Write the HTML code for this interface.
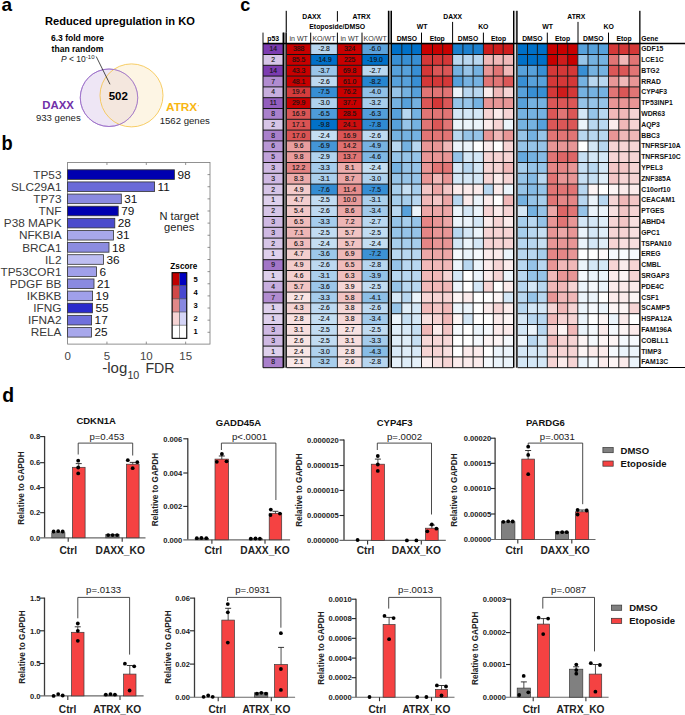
<!DOCTYPE html>
<html><head><meta charset="utf-8"><style>
html,body{margin:0;padding:0;background:#fff;width:685px;height:715px;overflow:hidden}
svg{display:block;font-family:"Liberation Sans", sans-serif}
</style></head><body>
<svg width="685" height="715" viewBox="0 0 685 715">
<text x="1.50" y="11.00" font-size="19" font-weight="bold" fill="#000" >a</text>
<text x="45.00" y="25.40" font-size="11.1" font-weight="bold" fill="#000" >Reduced upregulation in KO</text>
<text x="77.50" y="41.20" font-size="8.55" font-weight="bold" text-anchor="middle" fill="#000" >6.3 fold more</text>
<text x="77.50" y="51.70" font-size="8.55" font-weight="bold" text-anchor="middle" fill="#000" >than random</text>
<text x="61" y="61.7" font-size="8.5" fill="#222"><tspan font-style="italic">P</tspan> &lt; 10<tspan font-size="6" dy="-3">-10</tspan></text>
<circle cx="109" cy="97.75" r="28.75" fill="#eee6f5" stroke="#9a6cc8" stroke-width="0.75"/>
<circle cx="131.5" cy="95.4" r="31.5" fill="#fbe9c4" fill-opacity="0.45" stroke="#f5c242" stroke-width="0.8"/>
<circle cx="109" cy="97.75" r="28.75" fill="none" stroke="#9a6cc8" stroke-width="0.75"/>
<line x1="96.20" y1="56.50" x2="110.00" y2="84.30" stroke="#111" stroke-width="0.75"/>
<text x="118.30" y="100.40" font-size="11.5" font-weight="bold" text-anchor="middle" fill="#000" >502</text>
<text x="42.30" y="108.50" font-size="11.4" font-weight="bold" fill="#7030a8" >DAXX</text>
<text x="35.90" y="121.20" font-size="9.6" fill="#222" >933 genes</text>
<text x="166.00" y="111.40" font-size="11.8" font-weight="bold" fill="#f8b612" >ATRX</text>
<rect x="197.70" y="105.20" width="1.20" height="1.00" fill="#f8c850"/>
<text x="159.70" y="123.90" font-size="9.6" fill="#222" >1562 genes</text>
<text x="1.6" y="0" font-size="18.3" font-weight="bold" transform="translate(0,150) scale(1,1.08)">b</text>
<rect x="67.60" y="162.50" width="142.40" height="181.60" fill="#fff" stroke="#777" stroke-width="0.8"/>
<line x1="106.95" y1="162.50" x2="106.95" y2="165.00" stroke="#777" stroke-width="0.8"/>
<line x1="106.95" y1="344.10" x2="106.95" y2="341.60" stroke="#777" stroke-width="0.8"/>
<line x1="146.30" y1="162.50" x2="146.30" y2="165.00" stroke="#777" stroke-width="0.8"/>
<line x1="146.30" y1="344.10" x2="146.30" y2="341.60" stroke="#777" stroke-width="0.8"/>
<line x1="185.65" y1="162.50" x2="185.65" y2="165.00" stroke="#777" stroke-width="0.8"/>
<line x1="185.65" y1="344.10" x2="185.65" y2="341.60" stroke="#777" stroke-width="0.8"/>
<rect x="67.60" y="169.80" width="106.80" height="9.60" fill="#0000b0" stroke="#333" stroke-width="0.8"/>
<line x1="210.00" y1="174.60" x2="207.50" y2="174.60" stroke="#777" stroke-width="0.8"/>
<text x="61.50" y="178.80" font-size="11.8" text-anchor="end" fill="#3a3a3a" >TP53</text>
<text x="177.40" y="178.80" font-size="11.8" fill="#111" >98</text>
<rect x="67.60" y="181.93" width="87.00" height="9.60" fill="#6a6ad8" stroke="#333" stroke-width="0.8"/>
<line x1="210.00" y1="186.73" x2="207.50" y2="186.73" stroke="#777" stroke-width="0.8"/>
<text x="61.50" y="190.93" font-size="11.8" text-anchor="end" fill="#3a3a3a" >SLC29A1</text>
<text x="157.60" y="190.93" font-size="11.8" fill="#111" >11</text>
<rect x="67.60" y="194.06" width="53.70" height="9.60" fill="#8a8ae0" stroke="#333" stroke-width="0.8"/>
<line x1="210.00" y1="198.86" x2="207.50" y2="198.86" stroke="#777" stroke-width="0.8"/>
<text x="61.50" y="203.06" font-size="11.8" text-anchor="end" fill="#3a3a3a" >TP73</text>
<text x="124.30" y="203.06" font-size="11.8" fill="#111" >31</text>
<rect x="67.60" y="206.19" width="50.60" height="9.60" fill="#0000b0" stroke="#333" stroke-width="0.8"/>
<line x1="210.00" y1="210.99" x2="207.50" y2="210.99" stroke="#777" stroke-width="0.8"/>
<text x="61.50" y="215.19" font-size="11.8" text-anchor="end" fill="#3a3a3a" >TNF</text>
<text x="121.20" y="215.19" font-size="11.8" fill="#111" >79</text>
<rect x="67.60" y="218.32" width="47.20" height="9.60" fill="#4a4acc" stroke="#333" stroke-width="0.8"/>
<line x1="210.00" y1="223.12" x2="207.50" y2="223.12" stroke="#777" stroke-width="0.8"/>
<text x="61.50" y="227.32" font-size="11.8" text-anchor="end" fill="#3a3a3a" >P38 MAPK</text>
<text x="117.80" y="227.32" font-size="11.8" fill="#111" >28</text>
<rect x="67.60" y="230.45" width="45.90" height="9.60" fill="#a8a8ea" stroke="#333" stroke-width="0.8"/>
<line x1="210.00" y1="235.25" x2="207.50" y2="235.25" stroke="#777" stroke-width="0.8"/>
<text x="61.50" y="239.45" font-size="11.8" text-anchor="end" fill="#3a3a3a" >NFKBIA</text>
<text x="116.50" y="239.45" font-size="11.8" fill="#111" >31</text>
<rect x="67.60" y="242.58" width="41.40" height="9.60" fill="#8c8ce0" stroke="#333" stroke-width="0.8"/>
<line x1="210.00" y1="247.38" x2="207.50" y2="247.38" stroke="#777" stroke-width="0.8"/>
<text x="61.50" y="251.58" font-size="11.8" text-anchor="end" fill="#3a3a3a" >BRCA1</text>
<text x="112.00" y="251.58" font-size="11.8" fill="#111" >18</text>
<rect x="67.60" y="254.71" width="35.90" height="9.60" fill="#bebef2" stroke="#333" stroke-width="0.8"/>
<line x1="210.00" y1="259.51" x2="207.50" y2="259.51" stroke="#777" stroke-width="0.8"/>
<text x="61.50" y="263.71" font-size="11.8" text-anchor="end" fill="#3a3a3a" >IL2</text>
<text x="106.50" y="263.71" font-size="11.8" fill="#111" >36</text>
<rect x="67.60" y="266.84" width="28.90" height="9.60" fill="#a0a0ea" stroke="#333" stroke-width="0.8"/>
<line x1="210.00" y1="271.64" x2="207.50" y2="271.64" stroke="#777" stroke-width="0.8"/>
<text x="61.50" y="275.84" font-size="11.8" text-anchor="end" fill="#3a3a3a" >TP53COR1</text>
<text x="99.50" y="275.84" font-size="11.8" fill="#111" >6</text>
<rect x="67.60" y="278.97" width="26.40" height="9.60" fill="#8a8ae0" stroke="#333" stroke-width="0.8"/>
<line x1="210.00" y1="283.77" x2="207.50" y2="283.77" stroke="#777" stroke-width="0.8"/>
<text x="61.50" y="287.97" font-size="11.8" text-anchor="end" fill="#3a3a3a" >PDGF BB</text>
<text x="97.00" y="287.97" font-size="11.8" fill="#111" >21</text>
<rect x="67.60" y="291.10" width="25.00" height="9.60" fill="#a0a0ea" stroke="#333" stroke-width="0.8"/>
<line x1="210.00" y1="295.90" x2="207.50" y2="295.90" stroke="#777" stroke-width="0.8"/>
<text x="61.50" y="300.10" font-size="11.8" text-anchor="end" fill="#3a3a3a" >IKBKB</text>
<text x="95.60" y="300.10" font-size="11.8" fill="#111" >19</text>
<rect x="67.60" y="303.23" width="24.80" height="9.60" fill="#2a2acc" stroke="#333" stroke-width="0.8"/>
<line x1="210.00" y1="308.03" x2="207.50" y2="308.03" stroke="#777" stroke-width="0.8"/>
<text x="61.50" y="312.23" font-size="11.8" text-anchor="end" fill="#3a3a3a" >IFNG</text>
<text x="95.40" y="312.23" font-size="11.8" fill="#111" >55</text>
<rect x="67.60" y="315.36" width="24.00" height="9.60" fill="#7070dc" stroke="#333" stroke-width="0.8"/>
<line x1="210.00" y1="320.16" x2="207.50" y2="320.16" stroke="#777" stroke-width="0.8"/>
<text x="61.50" y="324.36" font-size="11.8" text-anchor="end" fill="#3a3a3a" >IFNA2</text>
<text x="94.60" y="324.36" font-size="11.8" fill="#111" >17</text>
<rect x="67.60" y="327.49" width="23.80" height="9.60" fill="#a8a8ec" stroke="#333" stroke-width="0.8"/>
<line x1="210.00" y1="332.29" x2="207.50" y2="332.29" stroke="#777" stroke-width="0.8"/>
<text x="61.50" y="336.49" font-size="11.8" text-anchor="end" fill="#3a3a3a" >RELA</text>
<text x="94.40" y="336.49" font-size="11.8" fill="#111" >25</text>
<text x="67.60" y="359.90" font-size="11.5" text-anchor="middle" fill="#444" >0</text>
<text x="106.95" y="359.90" font-size="11.5" text-anchor="middle" fill="#444" >5</text>
<text x="146.30" y="359.90" font-size="11.5" text-anchor="middle" fill="#444" >10</text>
<text x="185.65" y="359.90" font-size="11.5" text-anchor="middle" fill="#444" >15</text>
<text x="102.30" y="372.70" font-size="15" fill="#333" >-log</text>
<text x="127.40" y="378.80" font-size="10.7" fill="#333" >10</text>
<text x="145.40" y="372.70" font-size="14.2" fill="#333" >FDR</text>
<text x="179.20" y="219.60" font-size="11.1" text-anchor="middle" fill="#222" >N target</text>
<text x="179.20" y="231.40" font-size="11.1" text-anchor="middle" fill="#222" >genes</text>
<text x="183.80" y="268.60" font-size="8.2" font-weight="bold" text-anchor="middle" fill="#000" >Zscore</text>
<rect x="172.10" y="272.70" width="7.50" height="13.12" fill="#c00000" stroke="#555" stroke-width="0.5"/>
<rect x="179.60" y="272.70" width="7.20" height="13.12" fill="#0000c0" stroke="#555" stroke-width="0.5"/>
<text x="195.50" y="281.96" font-size="7.6" font-weight="bold" text-anchor="middle" fill="#000" >5</text>
<rect x="172.10" y="285.82" width="7.50" height="13.12" fill="#d04848" stroke="#555" stroke-width="0.5"/>
<rect x="179.60" y="285.82" width="7.20" height="13.12" fill="#4848d0" stroke="#555" stroke-width="0.5"/>
<text x="195.50" y="295.08" font-size="7.6" font-weight="bold" text-anchor="middle" fill="#000" >4</text>
<rect x="172.10" y="298.94" width="7.50" height="13.12" fill="#e08888" stroke="#555" stroke-width="0.5"/>
<rect x="179.60" y="298.94" width="7.20" height="13.12" fill="#8888e0" stroke="#555" stroke-width="0.5"/>
<text x="195.50" y="308.20" font-size="7.6" font-weight="bold" text-anchor="middle" fill="#000" >3</text>
<rect x="172.10" y="312.06" width="7.50" height="13.12" fill="#f6d4d4" stroke="#555" stroke-width="0.5"/>
<rect x="179.60" y="312.06" width="7.20" height="13.12" fill="#d4d4f6" stroke="#555" stroke-width="0.5"/>
<text x="195.50" y="321.32" font-size="7.6" font-weight="bold" text-anchor="middle" fill="#000" >2</text>
<rect x="172.10" y="325.18" width="7.50" height="13.12" fill="#ffffff" stroke="#555" stroke-width="0.5"/>
<rect x="179.60" y="325.18" width="7.20" height="13.12" fill="#ffffff" stroke="#555" stroke-width="0.5"/>
<text x="195.50" y="334.44" font-size="7.6" font-weight="bold" text-anchor="middle" fill="#000" >1</text>
<rect x="172.1" y="272.7" width="14.70" height="65.60" fill="none" stroke="#000" stroke-width="1"/>
<text x="240.30" y="10.90" font-size="18" font-weight="bold" fill="#000" >c</text>
<rect x="263.00" y="43.70" width="20.40" height="10.80" fill="#7c3cb0"/>
<text x="273.20" y="51.10" font-size="6.8" text-anchor="middle" fill="#141414" stroke="#141414" stroke-width="0.15">14</text>
<rect x="286.60" y="43.70" width="24.10" height="10.80" fill="#c80000"/>
<text x="298.70" y="51.10" font-size="6.8" text-anchor="middle" fill="#141414" stroke="#141414" stroke-width="0.15">388</text>
<rect x="310.70" y="43.70" width="26.70" height="10.80" fill="#b6d5ef"/>
<text x="324.00" y="51.10" font-size="6.8" text-anchor="middle" fill="#141414" stroke="#141414" stroke-width="0.15">-2.8</text>
<rect x="337.40" y="43.70" width="24.60" height="10.80" fill="#c80000"/>
<text x="349.70" y="51.10" font-size="6.8" text-anchor="middle" fill="#141414" stroke="#141414" stroke-width="0.15">324</text>
<rect x="362.00" y="43.70" width="26.20" height="10.80" fill="#5aa2dc"/>
<text x="375.10" y="51.10" font-size="6.8" text-anchor="middle" fill="#141414" stroke="#141414" stroke-width="0.15">-6.0</text>
<rect x="263.00" y="54.50" width="20.40" height="10.80" fill="#d6c5e7"/>
<text x="273.20" y="61.90" font-size="6.8" text-anchor="middle" fill="#141414" stroke="#141414" stroke-width="0.15">2</text>
<rect x="286.60" y="54.50" width="24.10" height="10.80" fill="#c80000"/>
<text x="298.70" y="61.90" font-size="6.8" text-anchor="middle" fill="#141414" stroke="#141414" stroke-width="0.15">85.5</text>
<rect x="310.70" y="54.50" width="26.70" height="10.80" fill="#0070c8"/>
<text x="324.00" y="61.90" font-size="6.8" text-anchor="middle" fill="#141414" stroke="#141414" stroke-width="0.15">-14.9</text>
<rect x="337.40" y="54.50" width="24.60" height="10.80" fill="#c80000"/>
<text x="349.70" y="61.90" font-size="6.8" text-anchor="middle" fill="#141414" stroke="#141414" stroke-width="0.15">225</text>
<rect x="362.00" y="54.50" width="26.20" height="10.80" fill="#0070c8"/>
<text x="375.10" y="61.90" font-size="6.8" text-anchor="middle" fill="#141414" stroke="#141414" stroke-width="0.15">-19.0</text>
<rect x="263.00" y="65.30" width="20.40" height="10.80" fill="#7c3cb0"/>
<text x="273.20" y="72.70" font-size="6.8" text-anchor="middle" fill="#141414" stroke="#141414" stroke-width="0.15">14</text>
<rect x="286.60" y="65.30" width="24.10" height="10.80" fill="#c80000"/>
<text x="298.70" y="72.70" font-size="6.8" text-anchor="middle" fill="#141414" stroke="#141414" stroke-width="0.15">43.3</text>
<rect x="310.70" y="65.30" width="26.70" height="10.80" fill="#99c5e9"/>
<text x="324.00" y="72.70" font-size="6.8" text-anchor="middle" fill="#141414" stroke="#141414" stroke-width="0.15">-3.7</text>
<rect x="337.40" y="65.30" width="24.60" height="10.80" fill="#c80000"/>
<text x="349.70" y="72.70" font-size="6.8" text-anchor="middle" fill="#141414" stroke="#141414" stroke-width="0.15">69.8</text>
<rect x="362.00" y="65.30" width="26.20" height="10.80" fill="#b9d7f0"/>
<text x="375.10" y="72.70" font-size="6.8" text-anchor="middle" fill="#141414" stroke="#141414" stroke-width="0.15">-2.7</text>
<rect x="263.00" y="76.10" width="20.40" height="10.80" fill="#b18cd0"/>
<text x="273.20" y="83.50" font-size="6.8" text-anchor="middle" fill="#141414" stroke="#141414" stroke-width="0.15">7</text>
<rect x="286.60" y="76.10" width="24.10" height="10.80" fill="#c80000"/>
<text x="298.70" y="83.50" font-size="6.8" text-anchor="middle" fill="#141414" stroke="#141414" stroke-width="0.15">48.1</text>
<rect x="310.70" y="76.10" width="26.70" height="10.80" fill="#bdd9f1"/>
<text x="324.00" y="83.50" font-size="6.8" text-anchor="middle" fill="#141414" stroke="#141414" stroke-width="0.15">-2.6</text>
<rect x="337.40" y="76.10" width="24.60" height="10.80" fill="#c80000"/>
<text x="349.70" y="83.50" font-size="6.8" text-anchor="middle" fill="#141414" stroke="#141414" stroke-width="0.15">61.0</text>
<rect x="362.00" y="76.10" width="26.20" height="10.80" fill="#2685d0"/>
<text x="375.10" y="83.50" font-size="6.8" text-anchor="middle" fill="#141414" stroke="#141414" stroke-width="0.15">-8.2</text>
<rect x="263.00" y="86.90" width="20.40" height="10.80" fill="#c7aede"/>
<text x="273.20" y="94.30" font-size="6.8" text-anchor="middle" fill="#141414" stroke="#141414" stroke-width="0.15">4</text>
<rect x="286.60" y="86.90" width="24.10" height="10.80" fill="#d53c3c"/>
<text x="298.70" y="94.30" font-size="6.8" text-anchor="middle" fill="#141414" stroke="#141414" stroke-width="0.15">19.4</text>
<rect x="310.70" y="86.90" width="26.70" height="10.80" fill="#368ed4"/>
<text x="324.00" y="94.30" font-size="6.8" text-anchor="middle" fill="#141414" stroke="#141414" stroke-width="0.15">-7.5</text>
<rect x="337.40" y="86.90" width="24.60" height="10.80" fill="#c80000"/>
<text x="349.70" y="94.30" font-size="6.8" text-anchor="middle" fill="#141414" stroke="#141414" stroke-width="0.15">76.2</text>
<rect x="362.00" y="86.90" width="26.20" height="10.80" fill="#90c0e7"/>
<text x="375.10" y="94.30" font-size="6.8" text-anchor="middle" fill="#141414" stroke="#141414" stroke-width="0.15">-4.0</text>
<rect x="263.00" y="97.70" width="20.40" height="10.80" fill="#935ebe"/>
<text x="273.20" y="105.10" font-size="6.8" text-anchor="middle" fill="#141414" stroke="#141414" stroke-width="0.15">11</text>
<rect x="286.60" y="97.70" width="24.10" height="10.80" fill="#c80000"/>
<text x="298.70" y="105.10" font-size="6.8" text-anchor="middle" fill="#141414" stroke="#141414" stroke-width="0.15">29.9</text>
<rect x="310.70" y="97.70" width="26.70" height="10.80" fill="#afd2ee"/>
<text x="324.00" y="105.10" font-size="6.8" text-anchor="middle" fill="#141414" stroke="#141414" stroke-width="0.15">-3.0</text>
<rect x="337.40" y="97.70" width="24.60" height="10.80" fill="#c80000"/>
<text x="349.70" y="105.10" font-size="6.8" text-anchor="middle" fill="#141414" stroke="#141414" stroke-width="0.15">37.7</text>
<rect x="362.00" y="97.70" width="26.20" height="10.80" fill="#a8ceec"/>
<text x="375.10" y="105.10" font-size="6.8" text-anchor="middle" fill="#141414" stroke="#141414" stroke-width="0.15">-3.2</text>
<rect x="263.00" y="108.50" width="20.40" height="10.80" fill="#a980cc"/>
<text x="273.20" y="115.90" font-size="6.8" text-anchor="middle" fill="#141414" stroke="#141414" stroke-width="0.15">8</text>
<rect x="286.60" y="108.50" width="24.10" height="10.80" fill="#da5555"/>
<text x="298.70" y="115.90" font-size="6.8" text-anchor="middle" fill="#141414" stroke="#141414" stroke-width="0.15">16.9</text>
<rect x="310.70" y="108.50" width="26.70" height="10.80" fill="#4e9bd9"/>
<text x="324.00" y="115.90" font-size="6.8" text-anchor="middle" fill="#141414" stroke="#141414" stroke-width="0.15">-6.5</text>
<rect x="337.40" y="108.50" width="24.60" height="10.80" fill="#c80000"/>
<text x="349.70" y="115.90" font-size="6.8" text-anchor="middle" fill="#141414" stroke="#141414" stroke-width="0.15">28.5</text>
<rect x="362.00" y="108.50" width="26.20" height="10.80" fill="#539eda"/>
<text x="375.10" y="115.90" font-size="6.8" text-anchor="middle" fill="#141414" stroke="#141414" stroke-width="0.15">-6.3</text>
<rect x="263.00" y="119.30" width="20.40" height="10.80" fill="#d6c5e7"/>
<text x="273.20" y="126.70" font-size="6.8" text-anchor="middle" fill="#141414" stroke="#141414" stroke-width="0.15">2</text>
<rect x="286.60" y="119.30" width="24.10" height="10.80" fill="#da5353"/>
<text x="298.70" y="126.70" font-size="6.8" text-anchor="middle" fill="#141414" stroke="#141414" stroke-width="0.15">17.1</text>
<rect x="310.70" y="119.30" width="26.70" height="10.80" fill="#0271c8"/>
<text x="324.00" y="126.70" font-size="6.8" text-anchor="middle" fill="#141414" stroke="#141414" stroke-width="0.15">-9.8</text>
<rect x="337.40" y="119.30" width="24.60" height="10.80" fill="#cb0e0e"/>
<text x="349.70" y="126.70" font-size="6.8" text-anchor="middle" fill="#141414" stroke="#141414" stroke-width="0.15">24.1</text>
<rect x="362.00" y="119.30" width="26.20" height="10.80" fill="#2f8ad2"/>
<text x="375.10" y="126.70" font-size="6.8" text-anchor="middle" fill="#141414" stroke="#141414" stroke-width="0.15">-7.8</text>
<rect x="263.00" y="130.10" width="20.40" height="10.80" fill="#a980cc"/>
<text x="273.20" y="137.50" font-size="6.8" text-anchor="middle" fill="#141414" stroke="#141414" stroke-width="0.15">8</text>
<rect x="286.60" y="130.10" width="24.10" height="10.80" fill="#da5454"/>
<text x="298.70" y="137.50" font-size="6.8" text-anchor="middle" fill="#141414" stroke="#141414" stroke-width="0.15">17.0</text>
<rect x="310.70" y="130.10" width="26.70" height="10.80" fill="#c4def2"/>
<text x="324.00" y="137.50" font-size="6.8" text-anchor="middle" fill="#141414" stroke="#141414" stroke-width="0.15">-2.4</text>
<rect x="337.40" y="130.10" width="24.60" height="10.80" fill="#da5555"/>
<text x="349.70" y="137.50" font-size="6.8" text-anchor="middle" fill="#141414" stroke="#141414" stroke-width="0.15">16.9</text>
<rect x="362.00" y="130.10" width="26.20" height="10.80" fill="#bdd9f1"/>
<text x="375.10" y="137.50" font-size="6.8" text-anchor="middle" fill="#141414" stroke="#141414" stroke-width="0.15">-2.6</text>
<rect x="263.00" y="140.90" width="20.40" height="10.80" fill="#b897d5"/>
<text x="273.20" y="148.30" font-size="6.8" text-anchor="middle" fill="#141414" stroke="#141414" stroke-width="0.15">6</text>
<rect x="286.60" y="140.90" width="24.10" height="10.80" fill="#e99e9e"/>
<text x="298.70" y="148.30" font-size="6.8" text-anchor="middle" fill="#141414" stroke="#141414" stroke-width="0.15">9.6</text>
<rect x="310.70" y="140.90" width="26.70" height="10.80" fill="#4496d7"/>
<text x="324.00" y="148.30" font-size="6.8" text-anchor="middle" fill="#141414" stroke="#141414" stroke-width="0.15">-6.9</text>
<rect x="337.40" y="140.90" width="24.60" height="10.80" fill="#e07070"/>
<text x="349.70" y="148.30" font-size="6.8" text-anchor="middle" fill="#141414" stroke="#141414" stroke-width="0.15">14.2</text>
<rect x="362.00" y="140.90" width="26.20" height="10.80" fill="#77b2e2"/>
<text x="375.10" y="148.30" font-size="6.8" text-anchor="middle" fill="#141414" stroke="#141414" stroke-width="0.15">-4.9</text>
<rect x="263.00" y="151.70" width="20.40" height="10.80" fill="#c0a2da"/>
<text x="273.20" y="159.10" font-size="6.8" text-anchor="middle" fill="#141414" stroke="#141414" stroke-width="0.15">5</text>
<rect x="286.60" y="151.70" width="24.10" height="10.80" fill="#e99c9c"/>
<text x="298.70" y="159.10" font-size="6.8" text-anchor="middle" fill="#141414" stroke="#141414" stroke-width="0.15">9.8</text>
<rect x="310.70" y="151.70" width="26.70" height="10.80" fill="#b2d4ef"/>
<text x="324.00" y="159.10" font-size="6.8" text-anchor="middle" fill="#141414" stroke="#141414" stroke-width="0.15">-2.9</text>
<rect x="337.40" y="151.70" width="24.60" height="10.80" fill="#e17575"/>
<text x="349.70" y="159.10" font-size="6.8" text-anchor="middle" fill="#141414" stroke="#141414" stroke-width="0.15">13.7</text>
<rect x="362.00" y="151.70" width="26.20" height="10.80" fill="#7fb7e3"/>
<text x="375.10" y="159.10" font-size="6.8" text-anchor="middle" fill="#141414" stroke="#141414" stroke-width="0.15">-4.6</text>
<rect x="263.00" y="162.50" width="20.40" height="10.80" fill="#cfb9e3"/>
<text x="273.20" y="169.90" font-size="6.8" text-anchor="middle" fill="#141414" stroke="#141414" stroke-width="0.15">3</text>
<rect x="286.60" y="162.50" width="24.10" height="10.80" fill="#e48484"/>
<text x="298.70" y="169.90" font-size="6.8" text-anchor="middle" fill="#141414" stroke="#141414" stroke-width="0.15">12.2</text>
<rect x="310.70" y="162.50" width="26.70" height="10.80" fill="#a5ccec"/>
<text x="324.00" y="169.90" font-size="6.8" text-anchor="middle" fill="#141414" stroke="#141414" stroke-width="0.15">-3.3</text>
<rect x="337.40" y="162.50" width="24.60" height="10.80" fill="#ecadad"/>
<text x="349.70" y="169.90" font-size="6.8" text-anchor="middle" fill="#141414" stroke="#141414" stroke-width="0.15">8.1</text>
<rect x="362.00" y="162.50" width="26.20" height="10.80" fill="#c4def2"/>
<text x="375.10" y="169.90" font-size="6.8" text-anchor="middle" fill="#141414" stroke="#141414" stroke-width="0.15">-2.4</text>
<rect x="263.00" y="173.30" width="20.40" height="10.80" fill="#cfb9e3"/>
<text x="273.20" y="180.70" font-size="6.8" text-anchor="middle" fill="#141414" stroke="#141414" stroke-width="0.15">3</text>
<rect x="286.60" y="173.30" width="24.10" height="10.80" fill="#ecabab"/>
<text x="298.70" y="180.70" font-size="6.8" text-anchor="middle" fill="#141414" stroke="#141414" stroke-width="0.15">8.3</text>
<rect x="310.70" y="173.30" width="26.70" height="10.80" fill="#abd0ed"/>
<text x="324.00" y="180.70" font-size="6.8" text-anchor="middle" fill="#141414" stroke="#141414" stroke-width="0.15">-3.1</text>
<rect x="337.40" y="173.30" width="24.60" height="10.80" fill="#eba7a7"/>
<text x="349.70" y="180.70" font-size="6.8" text-anchor="middle" fill="#141414" stroke="#141414" stroke-width="0.15">8.7</text>
<rect x="362.00" y="173.30" width="26.20" height="10.80" fill="#afd2ee"/>
<text x="375.10" y="180.70" font-size="6.8" text-anchor="middle" fill="#141414" stroke="#141414" stroke-width="0.15">-3.0</text>
<rect x="263.00" y="184.10" width="20.40" height="10.80" fill="#d6c5e7"/>
<text x="273.20" y="191.50" font-size="6.8" text-anchor="middle" fill="#141414" stroke="#141414" stroke-width="0.15">2</text>
<rect x="286.60" y="184.10" width="24.10" height="10.80" fill="#f3cccc"/>
<text x="298.70" y="191.50" font-size="6.8" text-anchor="middle" fill="#141414" stroke="#141414" stroke-width="0.15">4.9</text>
<rect x="310.70" y="184.10" width="26.70" height="10.80" fill="#348dd3"/>
<text x="324.00" y="191.50" font-size="6.8" text-anchor="middle" fill="#141414" stroke="#141414" stroke-width="0.15">-7.6</text>
<rect x="337.40" y="184.10" width="24.60" height="10.80" fill="#e58c8c"/>
<text x="349.70" y="191.50" font-size="6.8" text-anchor="middle" fill="#141414" stroke="#141414" stroke-width="0.15">11.4</text>
<rect x="362.00" y="184.10" width="26.20" height="10.80" fill="#368ed4"/>
<text x="375.10" y="191.50" font-size="6.8" text-anchor="middle" fill="#141414" stroke="#141414" stroke-width="0.15">-7.5</text>
<rect x="263.00" y="194.90" width="20.40" height="10.80" fill="#ded0ec"/>
<text x="273.20" y="202.30" font-size="6.8" text-anchor="middle" fill="#141414" stroke="#141414" stroke-width="0.15">1</text>
<rect x="286.60" y="194.90" width="24.10" height="10.80" fill="#f3cece"/>
<text x="298.70" y="202.30" font-size="6.8" text-anchor="middle" fill="#141414" stroke="#141414" stroke-width="0.15">4.7</text>
<rect x="310.70" y="194.90" width="26.70" height="10.80" fill="#c1dcf2"/>
<text x="324.00" y="202.30" font-size="6.8" text-anchor="middle" fill="#141414" stroke="#141414" stroke-width="0.15">-2.5</text>
<rect x="337.40" y="194.90" width="24.60" height="10.80" fill="#e89a9a"/>
<text x="349.70" y="202.30" font-size="6.8" text-anchor="middle" fill="#141414" stroke="#141414" stroke-width="0.15">10.0</text>
<rect x="362.00" y="194.90" width="26.20" height="10.80" fill="#abd0ed"/>
<text x="375.10" y="202.30" font-size="6.8" text-anchor="middle" fill="#141414" stroke="#141414" stroke-width="0.15">-3.1</text>
<rect x="263.00" y="205.70" width="20.40" height="10.80" fill="#d6c5e7"/>
<text x="273.20" y="213.10" font-size="6.8" text-anchor="middle" fill="#141414" stroke="#141414" stroke-width="0.15">2</text>
<rect x="286.60" y="205.70" width="24.10" height="10.80" fill="#f2c7c7"/>
<text x="298.70" y="213.10" font-size="6.8" text-anchor="middle" fill="#141414" stroke="#141414" stroke-width="0.15">5.4</text>
<rect x="310.70" y="205.70" width="26.70" height="10.80" fill="#bdd9f1"/>
<text x="324.00" y="213.10" font-size="6.8" text-anchor="middle" fill="#141414" stroke="#141414" stroke-width="0.15">-2.6</text>
<rect x="337.40" y="205.70" width="24.60" height="10.80" fill="#eba8a8"/>
<text x="349.70" y="213.10" font-size="6.8" text-anchor="middle" fill="#141414" stroke="#141414" stroke-width="0.15">8.6</text>
<rect x="362.00" y="205.70" width="26.20" height="10.80" fill="#a2caeb"/>
<text x="375.10" y="213.10" font-size="6.8" text-anchor="middle" fill="#141414" stroke="#141414" stroke-width="0.15">-3.4</text>
<rect x="263.00" y="216.50" width="20.40" height="10.80" fill="#cfb9e3"/>
<text x="273.20" y="223.90" font-size="6.8" text-anchor="middle" fill="#141414" stroke="#141414" stroke-width="0.15">3</text>
<rect x="286.60" y="216.50" width="24.10" height="10.80" fill="#f0bcbc"/>
<text x="298.70" y="223.90" font-size="6.8" text-anchor="middle" fill="#141414" stroke="#141414" stroke-width="0.15">6.5</text>
<rect x="310.70" y="216.50" width="26.70" height="10.80" fill="#a5ccec"/>
<text x="324.00" y="223.90" font-size="6.8" text-anchor="middle" fill="#141414" stroke="#141414" stroke-width="0.15">-3.3</text>
<rect x="337.40" y="216.50" width="24.60" height="10.80" fill="#eeb5b5"/>
<text x="349.70" y="223.90" font-size="6.8" text-anchor="middle" fill="#141414" stroke="#141414" stroke-width="0.15">7.2</text>
<rect x="362.00" y="216.50" width="26.20" height="10.80" fill="#b9d7f0"/>
<text x="375.10" y="223.90" font-size="6.8" text-anchor="middle" fill="#141414" stroke="#141414" stroke-width="0.15">-2.7</text>
<rect x="263.00" y="227.30" width="20.40" height="10.80" fill="#cfb9e3"/>
<text x="273.20" y="234.70" font-size="6.8" text-anchor="middle" fill="#141414" stroke="#141414" stroke-width="0.15">3</text>
<rect x="286.60" y="227.30" width="24.10" height="10.80" fill="#eeb6b6"/>
<text x="298.70" y="234.70" font-size="6.8" text-anchor="middle" fill="#141414" stroke="#141414" stroke-width="0.15">7.1</text>
<rect x="310.70" y="227.30" width="26.70" height="10.80" fill="#c1dcf2"/>
<text x="324.00" y="234.70" font-size="6.8" text-anchor="middle" fill="#141414" stroke="#141414" stroke-width="0.15">-2.5</text>
<rect x="337.40" y="227.30" width="24.60" height="10.80" fill="#f1c4c4"/>
<text x="349.70" y="234.70" font-size="6.8" text-anchor="middle" fill="#141414" stroke="#141414" stroke-width="0.15">5.7</text>
<rect x="362.00" y="227.30" width="26.20" height="10.80" fill="#c1dcf2"/>
<text x="375.10" y="234.70" font-size="6.8" text-anchor="middle" fill="#141414" stroke="#141414" stroke-width="0.15">-2.5</text>
<rect x="263.00" y="238.10" width="20.40" height="10.80" fill="#d6c5e7"/>
<text x="273.20" y="245.50" font-size="6.8" text-anchor="middle" fill="#141414" stroke="#141414" stroke-width="0.15">2</text>
<rect x="286.60" y="238.10" width="24.10" height="10.80" fill="#f0bebe"/>
<text x="298.70" y="245.50" font-size="6.8" text-anchor="middle" fill="#141414" stroke="#141414" stroke-width="0.15">6.3</text>
<rect x="310.70" y="238.10" width="26.70" height="10.80" fill="#c4def2"/>
<text x="324.00" y="245.50" font-size="6.8" text-anchor="middle" fill="#141414" stroke="#141414" stroke-width="0.15">-2.4</text>
<rect x="337.40" y="238.10" width="24.60" height="10.80" fill="#f1c4c4"/>
<text x="349.70" y="245.50" font-size="6.8" text-anchor="middle" fill="#141414" stroke="#141414" stroke-width="0.15">5.7</text>
<rect x="362.00" y="238.10" width="26.20" height="10.80" fill="#c4def2"/>
<text x="375.10" y="245.50" font-size="6.8" text-anchor="middle" fill="#141414" stroke="#141414" stroke-width="0.15">-2.4</text>
<rect x="263.00" y="248.90" width="20.40" height="10.80" fill="#ded0ec"/>
<text x="273.20" y="256.30" font-size="6.8" text-anchor="middle" fill="#141414" stroke="#141414" stroke-width="0.15">1</text>
<rect x="286.60" y="248.90" width="24.10" height="10.80" fill="#f3cece"/>
<text x="298.70" y="256.30" font-size="6.8" text-anchor="middle" fill="#141414" stroke="#141414" stroke-width="0.15">4.7</text>
<rect x="310.70" y="248.90" width="26.70" height="10.80" fill="#9cc7ea"/>
<text x="324.00" y="256.30" font-size="6.8" text-anchor="middle" fill="#141414" stroke="#141414" stroke-width="0.15">-3.6</text>
<rect x="337.40" y="248.90" width="24.60" height="10.80" fill="#efb8b8"/>
<text x="349.70" y="256.30" font-size="6.8" text-anchor="middle" fill="#141414" stroke="#141414" stroke-width="0.15">6.9</text>
<rect x="362.00" y="248.90" width="26.20" height="10.80" fill="#3d92d5"/>
<text x="375.10" y="256.30" font-size="6.8" text-anchor="middle" fill="#141414" stroke="#141414" stroke-width="0.15">-7.2</text>
<rect x="263.00" y="259.70" width="20.40" height="10.80" fill="#a275c7"/>
<text x="273.20" y="267.10" font-size="6.8" text-anchor="middle" fill="#141414" stroke="#141414" stroke-width="0.15">9</text>
<rect x="286.60" y="259.70" width="24.10" height="10.80" fill="#f3cccc"/>
<text x="298.70" y="267.10" font-size="6.8" text-anchor="middle" fill="#141414" stroke="#141414" stroke-width="0.15">4.9</text>
<rect x="310.70" y="259.70" width="26.70" height="10.80" fill="#bdd9f1"/>
<text x="324.00" y="267.10" font-size="6.8" text-anchor="middle" fill="#141414" stroke="#141414" stroke-width="0.15">-2.6</text>
<rect x="337.40" y="259.70" width="24.60" height="10.80" fill="#f0bcbc"/>
<text x="349.70" y="267.10" font-size="6.8" text-anchor="middle" fill="#141414" stroke="#141414" stroke-width="0.15">6.5</text>
<rect x="362.00" y="259.70" width="26.20" height="10.80" fill="#b6d5ef"/>
<text x="375.10" y="267.10" font-size="6.8" text-anchor="middle" fill="#141414" stroke="#141414" stroke-width="0.15">-2.8</text>
<rect x="263.00" y="270.50" width="20.40" height="10.80" fill="#ded0ec"/>
<text x="273.20" y="277.90" font-size="6.8" text-anchor="middle" fill="#141414" stroke="#141414" stroke-width="0.15">1</text>
<rect x="286.60" y="270.50" width="24.10" height="10.80" fill="#f4cfcf"/>
<text x="298.70" y="277.90" font-size="6.8" text-anchor="middle" fill="#141414" stroke="#141414" stroke-width="0.15">4.6</text>
<rect x="310.70" y="270.50" width="26.70" height="10.80" fill="#abd0ed"/>
<text x="324.00" y="277.90" font-size="6.8" text-anchor="middle" fill="#141414" stroke="#141414" stroke-width="0.15">-3.1</text>
<rect x="337.40" y="270.50" width="24.60" height="10.80" fill="#f0bebe"/>
<text x="349.70" y="277.90" font-size="6.8" text-anchor="middle" fill="#141414" stroke="#141414" stroke-width="0.15">6.3</text>
<rect x="362.00" y="270.50" width="26.20" height="10.80" fill="#93c2e8"/>
<text x="375.10" y="277.90" font-size="6.8" text-anchor="middle" fill="#141414" stroke="#141414" stroke-width="0.15">-3.9</text>
<rect x="263.00" y="281.30" width="20.40" height="10.80" fill="#c7aede"/>
<text x="273.20" y="288.70" font-size="6.8" text-anchor="middle" fill="#141414" stroke="#141414" stroke-width="0.15">4</text>
<rect x="286.60" y="281.30" width="24.10" height="10.80" fill="#f1c4c4"/>
<text x="298.70" y="288.70" font-size="6.8" text-anchor="middle" fill="#141414" stroke="#141414" stroke-width="0.15">5.7</text>
<rect x="310.70" y="281.30" width="26.70" height="10.80" fill="#9cc7ea"/>
<text x="324.00" y="288.70" font-size="6.8" text-anchor="middle" fill="#141414" stroke="#141414" stroke-width="0.15">-3.6</text>
<rect x="337.40" y="281.30" width="24.60" height="10.80" fill="#f5d6d6"/>
<text x="349.70" y="288.70" font-size="6.8" text-anchor="middle" fill="#141414" stroke="#141414" stroke-width="0.15">3.9</text>
<rect x="362.00" y="281.30" width="26.20" height="10.80" fill="#c1dcf2"/>
<text x="375.10" y="288.70" font-size="6.8" text-anchor="middle" fill="#141414" stroke="#141414" stroke-width="0.15">-2.5</text>
<rect x="263.00" y="292.10" width="20.40" height="10.80" fill="#b18cd0"/>
<text x="273.20" y="299.50" font-size="6.8" text-anchor="middle" fill="#141414" stroke="#141414" stroke-width="0.15">7</text>
<rect x="286.60" y="292.10" width="24.10" height="10.80" fill="#f8e2e2"/>
<text x="298.70" y="299.50" font-size="6.8" text-anchor="middle" fill="#141414" stroke="#141414" stroke-width="0.15">2.7</text>
<rect x="310.70" y="292.10" width="26.70" height="10.80" fill="#a5ccec"/>
<text x="324.00" y="299.50" font-size="6.8" text-anchor="middle" fill="#141414" stroke="#141414" stroke-width="0.15">-3.3</text>
<rect x="337.40" y="292.10" width="24.60" height="10.80" fill="#f1c3c3"/>
<text x="349.70" y="299.50" font-size="6.8" text-anchor="middle" fill="#141414" stroke="#141414" stroke-width="0.15">5.8</text>
<rect x="362.00" y="292.10" width="26.20" height="10.80" fill="#8dbfe6"/>
<text x="375.10" y="299.50" font-size="6.8" text-anchor="middle" fill="#141414" stroke="#141414" stroke-width="0.15">-4.1</text>
<rect x="263.00" y="302.90" width="20.40" height="10.80" fill="#ded0ec"/>
<text x="273.20" y="310.30" font-size="6.8" text-anchor="middle" fill="#141414" stroke="#141414" stroke-width="0.15">1</text>
<rect x="286.60" y="302.90" width="24.10" height="10.80" fill="#f4d2d2"/>
<text x="298.70" y="310.30" font-size="6.8" text-anchor="middle" fill="#141414" stroke="#141414" stroke-width="0.15">4.3</text>
<rect x="310.70" y="302.90" width="26.70" height="10.80" fill="#bdd9f1"/>
<text x="324.00" y="310.30" font-size="6.8" text-anchor="middle" fill="#141414" stroke="#141414" stroke-width="0.15">-2.6</text>
<rect x="337.40" y="302.90" width="24.60" height="10.80" fill="#f5d7d7"/>
<text x="349.70" y="310.30" font-size="6.8" text-anchor="middle" fill="#141414" stroke="#141414" stroke-width="0.15">3.8</text>
<rect x="362.00" y="302.90" width="26.20" height="10.80" fill="#bdd9f1"/>
<text x="375.10" y="310.30" font-size="6.8" text-anchor="middle" fill="#141414" stroke="#141414" stroke-width="0.15">-2.6</text>
<rect x="263.00" y="313.70" width="20.40" height="10.80" fill="#ded0ec"/>
<text x="273.20" y="321.10" font-size="6.8" text-anchor="middle" fill="#141414" stroke="#141414" stroke-width="0.15">1</text>
<rect x="286.60" y="313.70" width="24.10" height="10.80" fill="#f7e1e1"/>
<text x="298.70" y="321.10" font-size="6.8" text-anchor="middle" fill="#141414" stroke="#141414" stroke-width="0.15">2.8</text>
<rect x="310.70" y="313.70" width="26.70" height="10.80" fill="#c4def2"/>
<text x="324.00" y="321.10" font-size="6.8" text-anchor="middle" fill="#141414" stroke="#141414" stroke-width="0.15">-2.4</text>
<rect x="337.40" y="313.70" width="24.60" height="10.80" fill="#f5d7d7"/>
<text x="349.70" y="321.10" font-size="6.8" text-anchor="middle" fill="#141414" stroke="#141414" stroke-width="0.15">3.8</text>
<rect x="362.00" y="313.70" width="26.20" height="10.80" fill="#a2caeb"/>
<text x="375.10" y="321.10" font-size="6.8" text-anchor="middle" fill="#141414" stroke="#141414" stroke-width="0.15">-3.4</text>
<rect x="263.00" y="324.50" width="20.40" height="10.80" fill="#cfb9e3"/>
<text x="273.20" y="331.90" font-size="6.8" text-anchor="middle" fill="#141414" stroke="#141414" stroke-width="0.15">3</text>
<rect x="286.60" y="324.50" width="24.10" height="10.80" fill="#f7dede"/>
<text x="298.70" y="331.90" font-size="6.8" text-anchor="middle" fill="#141414" stroke="#141414" stroke-width="0.15">3.1</text>
<rect x="310.70" y="324.50" width="26.70" height="10.80" fill="#c1dcf2"/>
<text x="324.00" y="331.90" font-size="6.8" text-anchor="middle" fill="#141414" stroke="#141414" stroke-width="0.15">-2.5</text>
<rect x="337.40" y="324.50" width="24.60" height="10.80" fill="#f8e2e2"/>
<text x="349.70" y="331.90" font-size="6.8" text-anchor="middle" fill="#141414" stroke="#141414" stroke-width="0.15">2.7</text>
<rect x="362.00" y="324.50" width="26.20" height="10.80" fill="#c1dcf2"/>
<text x="375.10" y="331.90" font-size="6.8" text-anchor="middle" fill="#141414" stroke="#141414" stroke-width="0.15">-2.5</text>
<rect x="263.00" y="335.30" width="20.40" height="10.80" fill="#cfb9e3"/>
<text x="273.20" y="342.70" font-size="6.8" text-anchor="middle" fill="#141414" stroke="#141414" stroke-width="0.15">3</text>
<rect x="286.60" y="335.30" width="24.10" height="10.80" fill="#f8e3e3"/>
<text x="298.70" y="342.70" font-size="6.8" text-anchor="middle" fill="#141414" stroke="#141414" stroke-width="0.15">2.6</text>
<rect x="310.70" y="335.30" width="26.70" height="10.80" fill="#c1dcf2"/>
<text x="324.00" y="342.70" font-size="6.8" text-anchor="middle" fill="#141414" stroke="#141414" stroke-width="0.15">-2.5</text>
<rect x="337.40" y="335.30" width="24.60" height="10.80" fill="#f7dede"/>
<text x="349.70" y="342.70" font-size="6.8" text-anchor="middle" fill="#141414" stroke="#141414" stroke-width="0.15">3.1</text>
<rect x="362.00" y="335.30" width="26.20" height="10.80" fill="#a5ccec"/>
<text x="375.10" y="342.70" font-size="6.8" text-anchor="middle" fill="#141414" stroke="#141414" stroke-width="0.15">-3.3</text>
<rect x="263.00" y="346.10" width="20.40" height="10.80" fill="#ded0ec"/>
<text x="273.20" y="353.50" font-size="6.8" text-anchor="middle" fill="#141414" stroke="#141414" stroke-width="0.15">1</text>
<rect x="286.60" y="346.10" width="24.10" height="10.80" fill="#f8e5e5"/>
<text x="298.70" y="353.50" font-size="6.8" text-anchor="middle" fill="#141414" stroke="#141414" stroke-width="0.15">2.4</text>
<rect x="310.70" y="346.10" width="26.70" height="10.80" fill="#afd2ee"/>
<text x="324.00" y="353.50" font-size="6.8" text-anchor="middle" fill="#141414" stroke="#141414" stroke-width="0.15">-3.0</text>
<rect x="337.40" y="346.10" width="24.60" height="10.80" fill="#f7e1e1"/>
<text x="349.70" y="353.50" font-size="6.8" text-anchor="middle" fill="#141414" stroke="#141414" stroke-width="0.15">2.8</text>
<rect x="362.00" y="346.10" width="26.20" height="10.80" fill="#87bce5"/>
<text x="375.10" y="353.50" font-size="6.8" text-anchor="middle" fill="#141414" stroke="#141414" stroke-width="0.15">-4.3</text>
<rect x="263.00" y="356.90" width="20.40" height="10.80" fill="#a980cc"/>
<text x="273.20" y="364.30" font-size="6.8" text-anchor="middle" fill="#141414" stroke="#141414" stroke-width="0.15">8</text>
<rect x="286.60" y="356.90" width="24.10" height="10.80" fill="#f9e8e8"/>
<text x="298.70" y="364.30" font-size="6.8" text-anchor="middle" fill="#141414" stroke="#141414" stroke-width="0.15">2.1</text>
<rect x="310.70" y="356.90" width="26.70" height="10.80" fill="#a8ceec"/>
<text x="324.00" y="364.30" font-size="6.8" text-anchor="middle" fill="#141414" stroke="#141414" stroke-width="0.15">-3.2</text>
<rect x="337.40" y="356.90" width="24.60" height="10.80" fill="#f8e3e3"/>
<text x="349.70" y="364.30" font-size="6.8" text-anchor="middle" fill="#141414" stroke="#141414" stroke-width="0.15">2.6</text>
<rect x="362.00" y="356.90" width="26.20" height="10.80" fill="#b6d5ef"/>
<text x="375.10" y="364.30" font-size="6.8" text-anchor="middle" fill="#141414" stroke="#141414" stroke-width="0.15">-2.8</text>
<rect x="392.00" y="43.70" width="9.80" height="10.80" fill="#0070c8"/>
<rect x="517.60" y="43.70" width="9.90" height="10.80" fill="#0070c8"/>
<rect x="401.80" y="43.70" width="9.90" height="10.80" fill="#0070c8"/>
<rect x="527.50" y="43.70" width="9.90" height="10.80" fill="#0070c8"/>
<rect x="411.70" y="43.70" width="9.80" height="10.80" fill="#0070c8"/>
<rect x="537.40" y="43.70" width="9.90" height="10.80" fill="#0070c8"/>
<rect x="421.50" y="43.70" width="11.00" height="10.80" fill="#c80000"/>
<rect x="547.30" y="43.70" width="10.20" height="10.80" fill="#c80000"/>
<rect x="432.50" y="43.70" width="10.20" height="10.80" fill="#c80000"/>
<rect x="557.50" y="43.70" width="10.20" height="10.80" fill="#c80000"/>
<rect x="442.70" y="43.70" width="9.90" height="10.80" fill="#c80000"/>
<rect x="567.70" y="43.70" width="10.10" height="10.80" fill="#c80000"/>
<rect x="452.60" y="43.70" width="10.30" height="10.80" fill="#1c80ce"/>
<rect x="577.80" y="43.70" width="10.20" height="10.80" fill="#57a1db"/>
<rect x="462.90" y="43.70" width="10.20" height="10.80" fill="#1c80ce"/>
<rect x="588.00" y="43.70" width="10.30" height="10.80" fill="#57a1db"/>
<rect x="473.10" y="43.70" width="10.30" height="10.80" fill="#1c80ce"/>
<rect x="598.30" y="43.70" width="10.20" height="10.80" fill="#57a1db"/>
<rect x="483.40" y="43.70" width="9.90" height="10.80" fill="#ce1c1c"/>
<rect x="608.50" y="43.70" width="10.30" height="10.80" fill="#d43838"/>
<rect x="493.30" y="43.70" width="9.90" height="10.80" fill="#ce1c1c"/>
<rect x="618.80" y="43.70" width="10.20" height="10.80" fill="#d43838"/>
<rect x="503.20" y="43.70" width="10.00" height="10.80" fill="#ce1c1c"/>
<rect x="629.00" y="43.70" width="10.30" height="10.80" fill="#d43838"/>
<text x="641.20" y="51.10" font-size="6.85" font-weight="bold" fill="#111" >GDF15</text>
<rect x="392.00" y="54.50" width="9.80" height="10.80" fill="#388fd4"/>
<rect x="517.60" y="54.50" width="9.90" height="10.80" fill="#0070c8"/>
<rect x="401.80" y="54.50" width="9.90" height="10.80" fill="#388fd4"/>
<rect x="527.50" y="54.50" width="9.90" height="10.80" fill="#0070c8"/>
<rect x="411.70" y="54.50" width="9.80" height="10.80" fill="#388fd4"/>
<rect x="537.40" y="54.50" width="9.90" height="10.80" fill="#0070c8"/>
<rect x="421.50" y="54.50" width="11.00" height="10.80" fill="#d43838"/>
<rect x="547.30" y="54.50" width="10.20" height="10.80" fill="#c80000"/>
<rect x="432.50" y="54.50" width="10.20" height="10.80" fill="#d43838"/>
<rect x="557.50" y="54.50" width="10.20" height="10.80" fill="#ce1c1c"/>
<rect x="442.70" y="54.50" width="9.90" height="10.80" fill="#d43838"/>
<rect x="567.70" y="54.50" width="10.10" height="10.80" fill="#c80000"/>
<rect x="452.60" y="54.50" width="10.30" height="10.80" fill="#b8d7f0"/>
<rect x="577.80" y="54.50" width="10.20" height="10.80" fill="#96c4e8"/>
<rect x="462.90" y="54.50" width="10.20" height="10.80" fill="#b8d7f0"/>
<rect x="588.00" y="54.50" width="10.30" height="10.80" fill="#75b2e1"/>
<rect x="473.10" y="54.50" width="10.30" height="10.80" fill="#b8d7f0"/>
<rect x="598.30" y="54.50" width="10.20" height="10.80" fill="#75b2e1"/>
<rect x="483.40" y="54.50" width="9.90" height="10.80" fill="#f0b8b8"/>
<rect x="608.50" y="54.50" width="10.30" height="10.80" fill="#e17575"/>
<rect x="493.30" y="54.50" width="9.90" height="10.80" fill="#f0b8b8"/>
<rect x="618.80" y="54.50" width="10.20" height="10.80" fill="#f0b8b8"/>
<rect x="503.20" y="54.50" width="10.00" height="10.80" fill="#f0b8b8"/>
<rect x="629.00" y="54.50" width="10.30" height="10.80" fill="#e17575"/>
<text x="641.20" y="61.90" font-size="6.85" font-weight="bold" fill="#111" >LCE1C</text>
<rect x="392.00" y="65.30" width="9.80" height="10.80" fill="#57a1db"/>
<rect x="517.60" y="65.30" width="9.90" height="10.80" fill="#57a1db"/>
<rect x="401.80" y="65.30" width="9.90" height="10.80" fill="#57a1db"/>
<rect x="527.50" y="65.30" width="9.90" height="10.80" fill="#57a1db"/>
<rect x="411.70" y="65.30" width="9.80" height="10.80" fill="#388fd4"/>
<rect x="537.40" y="65.30" width="9.90" height="10.80" fill="#388fd4"/>
<rect x="421.50" y="65.30" width="11.00" height="10.80" fill="#d43838"/>
<rect x="547.30" y="65.30" width="10.20" height="10.80" fill="#d43838"/>
<rect x="432.50" y="65.30" width="10.20" height="10.80" fill="#db5757"/>
<rect x="557.50" y="65.30" width="10.20" height="10.80" fill="#d43838"/>
<rect x="442.70" y="65.30" width="9.90" height="10.80" fill="#db5757"/>
<rect x="567.70" y="65.30" width="10.10" height="10.80" fill="#d43838"/>
<rect x="452.60" y="65.30" width="10.30" height="10.80" fill="#75b2e1"/>
<rect x="577.80" y="65.30" width="10.20" height="10.80" fill="#388fd4"/>
<rect x="462.90" y="65.30" width="10.20" height="10.80" fill="#96c4e8"/>
<rect x="588.00" y="65.30" width="10.30" height="10.80" fill="#75b2e1"/>
<rect x="473.10" y="65.30" width="10.30" height="10.80" fill="#75b2e1"/>
<rect x="598.30" y="65.30" width="10.20" height="10.80" fill="#75b2e1"/>
<rect x="483.40" y="65.30" width="9.90" height="10.80" fill="#e89696"/>
<rect x="608.50" y="65.30" width="10.30" height="10.80" fill="#db5757"/>
<rect x="493.30" y="65.30" width="9.90" height="10.80" fill="#e17575"/>
<rect x="618.80" y="65.30" width="10.20" height="10.80" fill="#db5757"/>
<rect x="503.20" y="65.30" width="10.00" height="10.80" fill="#f0b8b8"/>
<rect x="629.00" y="65.30" width="10.30" height="10.80" fill="#e17575"/>
<text x="641.20" y="72.70" font-size="6.85" font-weight="bold" fill="#111" >BTG2</text>
<rect x="392.00" y="76.10" width="9.80" height="10.80" fill="#57a1db"/>
<rect x="517.60" y="76.10" width="9.90" height="10.80" fill="#388fd4"/>
<rect x="401.80" y="76.10" width="9.90" height="10.80" fill="#57a1db"/>
<rect x="527.50" y="76.10" width="9.90" height="10.80" fill="#57a1db"/>
<rect x="411.70" y="76.10" width="9.80" height="10.80" fill="#388fd4"/>
<rect x="537.40" y="76.10" width="9.90" height="10.80" fill="#57a1db"/>
<rect x="421.50" y="76.10" width="11.00" height="10.80" fill="#d43838"/>
<rect x="547.30" y="76.10" width="10.20" height="10.80" fill="#d43838"/>
<rect x="432.50" y="76.10" width="10.20" height="10.80" fill="#d43838"/>
<rect x="557.50" y="76.10" width="10.20" height="10.80" fill="#d43838"/>
<rect x="442.70" y="76.10" width="9.90" height="10.80" fill="#d43838"/>
<rect x="567.70" y="76.10" width="10.10" height="10.80" fill="#d43838"/>
<rect x="452.60" y="76.10" width="10.30" height="10.80" fill="#57a1db"/>
<rect x="577.80" y="76.10" width="10.20" height="10.80" fill="#75b2e1"/>
<rect x="462.90" y="76.10" width="10.20" height="10.80" fill="#75b2e1"/>
<rect x="588.00" y="76.10" width="10.30" height="10.80" fill="#b8d7f0"/>
<rect x="473.10" y="76.10" width="10.30" height="10.80" fill="#75b2e1"/>
<rect x="598.30" y="76.10" width="10.20" height="10.80" fill="#b8d7f0"/>
<rect x="483.40" y="76.10" width="9.90" height="10.80" fill="#e17575"/>
<rect x="608.50" y="76.10" width="10.30" height="10.80" fill="#e89696"/>
<rect x="493.30" y="76.10" width="9.90" height="10.80" fill="#e17575"/>
<rect x="618.80" y="76.10" width="10.20" height="10.80" fill="#f0b8b8"/>
<rect x="503.20" y="76.10" width="10.00" height="10.80" fill="#db5757"/>
<rect x="629.00" y="76.10" width="10.30" height="10.80" fill="#e89696"/>
<text x="641.20" y="83.50" font-size="6.85" font-weight="bold" fill="#111" >RRAD</text>
<rect x="392.00" y="86.90" width="9.80" height="10.80" fill="#96c4e8"/>
<rect x="517.60" y="86.90" width="9.90" height="10.80" fill="#57a1db"/>
<rect x="401.80" y="86.90" width="9.90" height="10.80" fill="#75b2e1"/>
<rect x="527.50" y="86.90" width="9.90" height="10.80" fill="#388fd4"/>
<rect x="411.70" y="86.90" width="9.80" height="10.80" fill="#57a1db"/>
<rect x="537.40" y="86.90" width="9.90" height="10.80" fill="#388fd4"/>
<rect x="421.50" y="86.90" width="11.00" height="10.80" fill="#e17575"/>
<rect x="547.30" y="86.90" width="10.20" height="10.80" fill="#d43838"/>
<rect x="432.50" y="86.90" width="10.20" height="10.80" fill="#e17575"/>
<rect x="557.50" y="86.90" width="10.20" height="10.80" fill="#ce1c1c"/>
<rect x="442.70" y="86.90" width="9.90" height="10.80" fill="#e17575"/>
<rect x="567.70" y="86.90" width="10.10" height="10.80" fill="#d43838"/>
<rect x="452.60" y="86.90" width="10.30" height="10.80" fill="#ebf4fb"/>
<rect x="577.80" y="86.90" width="10.20" height="10.80" fill="#75b2e1"/>
<rect x="462.90" y="86.90" width="10.20" height="10.80" fill="#b8d7f0"/>
<rect x="588.00" y="86.90" width="10.30" height="10.80" fill="#75b2e1"/>
<rect x="473.10" y="86.90" width="10.30" height="10.80" fill="#b8d7f0"/>
<rect x="598.30" y="86.90" width="10.20" height="10.80" fill="#75b2e1"/>
<rect x="483.40" y="86.90" width="9.90" height="10.80" fill="#fbebeb"/>
<rect x="608.50" y="86.90" width="10.30" height="10.80" fill="#e17575"/>
<rect x="493.30" y="86.90" width="9.90" height="10.80" fill="#f0b8b8"/>
<rect x="618.80" y="86.90" width="10.20" height="10.80" fill="#db5757"/>
<rect x="503.20" y="86.90" width="10.00" height="10.80" fill="#f6d4d4"/>
<rect x="629.00" y="86.90" width="10.30" height="10.80" fill="#e17575"/>
<text x="641.20" y="94.30" font-size="6.85" font-weight="bold" fill="#111" >CYP4F3</text>
<rect x="392.00" y="97.70" width="9.80" height="10.80" fill="#75b2e1"/>
<rect x="517.60" y="97.70" width="9.90" height="10.80" fill="#57a1db"/>
<rect x="401.80" y="97.70" width="9.90" height="10.80" fill="#57a1db"/>
<rect x="527.50" y="97.70" width="9.90" height="10.80" fill="#75b2e1"/>
<rect x="411.70" y="97.70" width="9.80" height="10.80" fill="#75b2e1"/>
<rect x="537.40" y="97.70" width="9.90" height="10.80" fill="#75b2e1"/>
<rect x="421.50" y="97.70" width="11.00" height="10.80" fill="#db5757"/>
<rect x="547.30" y="97.70" width="10.20" height="10.80" fill="#db5757"/>
<rect x="432.50" y="97.70" width="10.20" height="10.80" fill="#d43838"/>
<rect x="557.50" y="97.70" width="10.20" height="10.80" fill="#db5757"/>
<rect x="442.70" y="97.70" width="9.90" height="10.80" fill="#db5757"/>
<rect x="567.70" y="97.70" width="10.10" height="10.80" fill="#db5757"/>
<rect x="452.60" y="97.70" width="10.30" height="10.80" fill="#96c4e8"/>
<rect x="577.80" y="97.70" width="10.20" height="10.80" fill="#96c4e8"/>
<rect x="462.90" y="97.70" width="10.20" height="10.80" fill="#96c4e8"/>
<rect x="588.00" y="97.70" width="10.30" height="10.80" fill="#96c4e8"/>
<rect x="473.10" y="97.70" width="10.30" height="10.80" fill="#75b2e1"/>
<rect x="598.30" y="97.70" width="10.20" height="10.80" fill="#96c4e8"/>
<rect x="483.40" y="97.70" width="9.90" height="10.80" fill="#e89696"/>
<rect x="608.50" y="97.70" width="10.30" height="10.80" fill="#e89696"/>
<rect x="493.30" y="97.70" width="9.90" height="10.80" fill="#e89696"/>
<rect x="618.80" y="97.70" width="10.20" height="10.80" fill="#e89696"/>
<rect x="503.20" y="97.70" width="10.00" height="10.80" fill="#e89696"/>
<rect x="629.00" y="97.70" width="10.30" height="10.80" fill="#e89696"/>
<text x="641.20" y="105.10" font-size="6.85" font-weight="bold" fill="#111" >TP53INP1</text>
<rect x="392.00" y="108.50" width="9.80" height="10.80" fill="#57a1db"/>
<rect x="517.60" y="108.50" width="9.90" height="10.80" fill="#75b2e1"/>
<rect x="401.80" y="108.50" width="9.90" height="10.80" fill="#b8d7f0"/>
<rect x="527.50" y="108.50" width="9.90" height="10.80" fill="#75b2e1"/>
<rect x="411.70" y="108.50" width="9.80" height="10.80" fill="#75b2e1"/>
<rect x="537.40" y="108.50" width="9.90" height="10.80" fill="#75b2e1"/>
<rect x="421.50" y="108.50" width="11.00" height="10.80" fill="#e17575"/>
<rect x="547.30" y="108.50" width="10.20" height="10.80" fill="#db5757"/>
<rect x="432.50" y="108.50" width="10.20" height="10.80" fill="#e17575"/>
<rect x="557.50" y="108.50" width="10.20" height="10.80" fill="#e17575"/>
<rect x="442.70" y="108.50" width="9.90" height="10.80" fill="#e17575"/>
<rect x="567.70" y="108.50" width="10.10" height="10.80" fill="#db5757"/>
<rect x="452.60" y="108.50" width="10.30" height="10.80" fill="#d4e7f6"/>
<rect x="577.80" y="108.50" width="10.20" height="10.80" fill="#d4e7f6"/>
<rect x="462.90" y="108.50" width="10.20" height="10.80" fill="#d4e7f6"/>
<rect x="588.00" y="108.50" width="10.30" height="10.80" fill="#96c4e8"/>
<rect x="473.10" y="108.50" width="10.30" height="10.80" fill="#d4e7f6"/>
<rect x="598.30" y="108.50" width="10.20" height="10.80" fill="#b8d7f0"/>
<rect x="483.40" y="108.50" width="9.90" height="10.80" fill="#f6d4d4"/>
<rect x="608.50" y="108.50" width="10.30" height="10.80" fill="#f0b8b8"/>
<rect x="493.30" y="108.50" width="9.90" height="10.80" fill="#fbebeb"/>
<rect x="618.80" y="108.50" width="10.20" height="10.80" fill="#f0b8b8"/>
<rect x="503.20" y="108.50" width="10.00" height="10.80" fill="#f6d4d4"/>
<rect x="629.00" y="108.50" width="10.30" height="10.80" fill="#f6d4d4"/>
<text x="641.20" y="115.90" font-size="6.85" font-weight="bold" fill="#111" >WDR63</text>
<rect x="392.00" y="119.30" width="9.80" height="10.80" fill="#57a1db"/>
<rect x="517.60" y="119.30" width="9.90" height="10.80" fill="#75b2e1"/>
<rect x="401.80" y="119.30" width="9.90" height="10.80" fill="#96c4e8"/>
<rect x="527.50" y="119.30" width="9.90" height="10.80" fill="#75b2e1"/>
<rect x="411.70" y="119.30" width="9.80" height="10.80" fill="#75b2e1"/>
<rect x="537.40" y="119.30" width="9.90" height="10.80" fill="#57a1db"/>
<rect x="421.50" y="119.30" width="11.00" height="10.80" fill="#e17575"/>
<rect x="547.30" y="119.30" width="10.20" height="10.80" fill="#db5757"/>
<rect x="432.50" y="119.30" width="10.20" height="10.80" fill="#db5757"/>
<rect x="557.50" y="119.30" width="10.20" height="10.80" fill="#db5757"/>
<rect x="442.70" y="119.30" width="9.90" height="10.80" fill="#e17575"/>
<rect x="567.70" y="119.30" width="10.10" height="10.80" fill="#db5757"/>
<rect x="452.60" y="119.30" width="10.30" height="10.80" fill="#ebf4fb"/>
<rect x="577.80" y="119.30" width="10.20" height="10.80" fill="#ebf4fb"/>
<rect x="462.90" y="119.30" width="10.20" height="10.80" fill="#ebf4fb"/>
<rect x="588.00" y="119.30" width="10.30" height="10.80" fill="#b8d7f0"/>
<rect x="473.10" y="119.30" width="10.30" height="10.80" fill="#ebf4fb"/>
<rect x="598.30" y="119.30" width="10.20" height="10.80" fill="#b8d7f0"/>
<rect x="483.40" y="119.30" width="9.90" height="10.80" fill="#fbebeb"/>
<rect x="608.50" y="119.30" width="10.30" height="10.80" fill="#fbebeb"/>
<rect x="493.30" y="119.30" width="9.90" height="10.80" fill="#f6d4d4"/>
<rect x="618.80" y="119.30" width="10.20" height="10.80" fill="#f0b8b8"/>
<rect x="503.20" y="119.30" width="10.00" height="10.80" fill="#ebf4fb"/>
<rect x="629.00" y="119.30" width="10.30" height="10.80" fill="#f6d4d4"/>
<text x="641.20" y="126.70" font-size="6.85" font-weight="bold" fill="#111" >AQP3</text>
<rect x="392.00" y="130.10" width="9.80" height="10.80" fill="#75b2e1"/>
<rect x="517.60" y="130.10" width="9.90" height="10.80" fill="#96c4e8"/>
<rect x="401.80" y="130.10" width="9.90" height="10.80" fill="#75b2e1"/>
<rect x="527.50" y="130.10" width="9.90" height="10.80" fill="#75b2e1"/>
<rect x="411.70" y="130.10" width="9.80" height="10.80" fill="#75b2e1"/>
<rect x="537.40" y="130.10" width="9.90" height="10.80" fill="#96c4e8"/>
<rect x="421.50" y="130.10" width="11.00" height="10.80" fill="#e17575"/>
<rect x="547.30" y="130.10" width="10.20" height="10.80" fill="#e17575"/>
<rect x="432.50" y="130.10" width="10.20" height="10.80" fill="#e17575"/>
<rect x="557.50" y="130.10" width="10.20" height="10.80" fill="#e17575"/>
<rect x="442.70" y="130.10" width="9.90" height="10.80" fill="#e17575"/>
<rect x="567.70" y="130.10" width="10.10" height="10.80" fill="#e17575"/>
<rect x="452.60" y="130.10" width="10.30" height="10.80" fill="#b8d7f0"/>
<rect x="577.80" y="130.10" width="10.20" height="10.80" fill="#b8d7f0"/>
<rect x="462.90" y="130.10" width="10.20" height="10.80" fill="#96c4e8"/>
<rect x="588.00" y="130.10" width="10.30" height="10.80" fill="#b8d7f0"/>
<rect x="473.10" y="130.10" width="10.30" height="10.80" fill="#96c4e8"/>
<rect x="598.30" y="130.10" width="10.20" height="10.80" fill="#b8d7f0"/>
<rect x="483.40" y="130.10" width="9.90" height="10.80" fill="#e89696"/>
<rect x="608.50" y="130.10" width="10.30" height="10.80" fill="#e89696"/>
<rect x="493.30" y="130.10" width="9.90" height="10.80" fill="#f0b8b8"/>
<rect x="618.80" y="130.10" width="10.20" height="10.80" fill="#f0b8b8"/>
<rect x="503.20" y="130.10" width="10.00" height="10.80" fill="#e89696"/>
<rect x="629.00" y="130.10" width="10.30" height="10.80" fill="#f0b8b8"/>
<text x="641.20" y="137.50" font-size="6.85" font-weight="bold" fill="#111" >BBC3</text>
<rect x="392.00" y="140.90" width="9.80" height="10.80" fill="#b8d7f0"/>
<rect x="517.60" y="140.90" width="9.90" height="10.80" fill="#96c4e8"/>
<rect x="401.80" y="140.90" width="9.90" height="10.80" fill="#75b2e1"/>
<rect x="527.50" y="140.90" width="9.90" height="10.80" fill="#96c4e8"/>
<rect x="411.70" y="140.90" width="9.80" height="10.80" fill="#b8d7f0"/>
<rect x="537.40" y="140.90" width="9.90" height="10.80" fill="#96c4e8"/>
<rect x="421.50" y="140.90" width="11.00" height="10.80" fill="#e89696"/>
<rect x="547.30" y="140.90" width="10.20" height="10.80" fill="#e89696"/>
<rect x="432.50" y="140.90" width="10.20" height="10.80" fill="#e89696"/>
<rect x="557.50" y="140.90" width="10.20" height="10.80" fill="#e89696"/>
<rect x="442.70" y="140.90" width="9.90" height="10.80" fill="#f0b8b8"/>
<rect x="567.70" y="140.90" width="10.10" height="10.80" fill="#e89696"/>
<rect x="452.60" y="140.90" width="10.30" height="10.80" fill="#ebf4fb"/>
<rect x="577.80" y="140.90" width="10.20" height="10.80" fill="#ffffff"/>
<rect x="462.90" y="140.90" width="10.20" height="10.80" fill="#ebf4fb"/>
<rect x="588.00" y="140.90" width="10.30" height="10.80" fill="#d4e7f6"/>
<rect x="473.10" y="140.90" width="10.30" height="10.80" fill="#ffffff"/>
<rect x="598.30" y="140.90" width="10.20" height="10.80" fill="#b8d7f0"/>
<rect x="483.40" y="140.90" width="9.90" height="10.80" fill="#fbebeb"/>
<rect x="608.50" y="140.90" width="10.30" height="10.80" fill="#f6d4d4"/>
<rect x="493.30" y="140.90" width="9.90" height="10.80" fill="#ffffff"/>
<rect x="618.80" y="140.90" width="10.20" height="10.80" fill="#f6d4d4"/>
<rect x="503.20" y="140.90" width="10.00" height="10.80" fill="#f6d4d4"/>
<rect x="629.00" y="140.90" width="10.30" height="10.80" fill="#f6d4d4"/>
<text x="641.20" y="148.30" font-size="6.85" font-weight="bold" fill="#111" >TNFRSF10A</text>
<rect x="392.00" y="151.70" width="9.80" height="10.80" fill="#96c4e8"/>
<rect x="517.60" y="151.70" width="9.90" height="10.80" fill="#66a9de"/>
<rect x="401.80" y="151.70" width="9.90" height="10.80" fill="#96c4e8"/>
<rect x="527.50" y="151.70" width="9.90" height="10.80" fill="#75b2e1"/>
<rect x="411.70" y="151.70" width="9.80" height="10.80" fill="#96c4e8"/>
<rect x="537.40" y="151.70" width="9.90" height="10.80" fill="#86bbe5"/>
<rect x="421.50" y="151.70" width="11.00" height="10.80" fill="#e89696"/>
<rect x="547.30" y="151.70" width="10.20" height="10.80" fill="#e17575"/>
<rect x="432.50" y="151.70" width="10.20" height="10.80" fill="#e89696"/>
<rect x="557.50" y="151.70" width="10.20" height="10.80" fill="#de6666"/>
<rect x="442.70" y="151.70" width="9.90" height="10.80" fill="#e89696"/>
<rect x="567.70" y="151.70" width="10.10" height="10.80" fill="#de6666"/>
<rect x="452.60" y="151.70" width="10.30" height="10.80" fill="#96c4e8"/>
<rect x="577.80" y="151.70" width="10.20" height="10.80" fill="#c6dff3"/>
<rect x="462.90" y="151.70" width="10.20" height="10.80" fill="#d4e7f6"/>
<rect x="588.00" y="151.70" width="10.30" height="10.80" fill="#d4e7f6"/>
<rect x="473.10" y="151.70" width="10.30" height="10.80" fill="#d4e7f6"/>
<rect x="598.30" y="151.70" width="10.20" height="10.80" fill="#d4e7f6"/>
<rect x="483.40" y="151.70" width="9.90" height="10.80" fill="#f6d4d4"/>
<rect x="608.50" y="151.70" width="10.30" height="10.80" fill="#f6d4d4"/>
<rect x="493.30" y="151.70" width="9.90" height="10.80" fill="#f6d4d4"/>
<rect x="618.80" y="151.70" width="10.20" height="10.80" fill="#f6d4d4"/>
<rect x="503.20" y="151.70" width="10.00" height="10.80" fill="#f6d4d4"/>
<rect x="629.00" y="151.70" width="10.30" height="10.80" fill="#f6d4d4"/>
<text x="641.20" y="159.10" font-size="6.85" font-weight="bold" fill="#111" >TNFRSF10C</text>
<rect x="392.00" y="162.50" width="9.80" height="10.80" fill="#75b2e1"/>
<rect x="517.60" y="162.50" width="9.90" height="10.80" fill="#a7ceec"/>
<rect x="401.80" y="162.50" width="9.90" height="10.80" fill="#96c4e8"/>
<rect x="527.50" y="162.50" width="9.90" height="10.80" fill="#96c4e8"/>
<rect x="411.70" y="162.50" width="9.80" height="10.80" fill="#96c4e8"/>
<rect x="537.40" y="162.50" width="9.90" height="10.80" fill="#96c4e8"/>
<rect x="421.50" y="162.50" width="11.00" height="10.80" fill="#e89696"/>
<rect x="547.30" y="162.50" width="10.20" height="10.80" fill="#e58686"/>
<rect x="432.50" y="162.50" width="10.20" height="10.80" fill="#e17575"/>
<rect x="557.50" y="162.50" width="10.20" height="10.80" fill="#e58686"/>
<rect x="442.70" y="162.50" width="9.90" height="10.80" fill="#e17575"/>
<rect x="567.70" y="162.50" width="10.10" height="10.80" fill="#e89696"/>
<rect x="452.60" y="162.50" width="10.30" height="10.80" fill="#d4e7f6"/>
<rect x="577.80" y="162.50" width="10.20" height="10.80" fill="#c6dff3"/>
<rect x="462.90" y="162.50" width="10.20" height="10.80" fill="#b8d7f0"/>
<rect x="588.00" y="162.50" width="10.30" height="10.80" fill="#b8d7f0"/>
<rect x="473.10" y="162.50" width="10.30" height="10.80" fill="#d4e7f6"/>
<rect x="598.30" y="162.50" width="10.20" height="10.80" fill="#d4e7f6"/>
<rect x="483.40" y="162.50" width="9.90" height="10.80" fill="#f6d4d4"/>
<rect x="608.50" y="162.50" width="10.30" height="10.80" fill="#f3c6c6"/>
<rect x="493.30" y="162.50" width="9.90" height="10.80" fill="#f6d4d4"/>
<rect x="618.80" y="162.50" width="10.20" height="10.80" fill="#f3c6c6"/>
<rect x="503.20" y="162.50" width="10.00" height="10.80" fill="#f0b8b8"/>
<rect x="629.00" y="162.50" width="10.30" height="10.80" fill="#f6d4d4"/>
<text x="641.20" y="169.90" font-size="6.85" font-weight="bold" fill="#111" >YPEL3</text>
<rect x="392.00" y="173.30" width="9.80" height="10.80" fill="#96c4e8"/>
<rect x="517.60" y="173.30" width="9.90" height="10.80" fill="#96c4e8"/>
<rect x="401.80" y="173.30" width="9.90" height="10.80" fill="#96c4e8"/>
<rect x="527.50" y="173.30" width="9.90" height="10.80" fill="#86bbe5"/>
<rect x="411.70" y="173.30" width="9.80" height="10.80" fill="#96c4e8"/>
<rect x="537.40" y="173.30" width="9.90" height="10.80" fill="#b8d7f0"/>
<rect x="421.50" y="173.30" width="11.00" height="10.80" fill="#e89696"/>
<rect x="547.30" y="173.30" width="10.20" height="10.80" fill="#e17575"/>
<rect x="432.50" y="173.30" width="10.20" height="10.80" fill="#f0b8b8"/>
<rect x="557.50" y="173.30" width="10.20" height="10.80" fill="#e89696"/>
<rect x="442.70" y="173.30" width="9.90" height="10.80" fill="#e89696"/>
<rect x="567.70" y="173.30" width="10.10" height="10.80" fill="#e89696"/>
<rect x="452.60" y="173.30" width="10.30" height="10.80" fill="#d4e7f6"/>
<rect x="577.80" y="173.30" width="10.20" height="10.80" fill="#c6dff3"/>
<rect x="462.90" y="173.30" width="10.20" height="10.80" fill="#d4e7f6"/>
<rect x="588.00" y="173.30" width="10.30" height="10.80" fill="#c6dff3"/>
<rect x="473.10" y="173.30" width="10.30" height="10.80" fill="#d4e7f6"/>
<rect x="598.30" y="173.30" width="10.20" height="10.80" fill="#dfedf8"/>
<rect x="483.40" y="173.30" width="9.90" height="10.80" fill="#f6d4d4"/>
<rect x="608.50" y="173.30" width="10.30" height="10.80" fill="#f3c6c6"/>
<rect x="493.30" y="173.30" width="9.90" height="10.80" fill="#fbebeb"/>
<rect x="618.80" y="173.30" width="10.20" height="10.80" fill="#f6d4d4"/>
<rect x="503.20" y="173.30" width="10.00" height="10.80" fill="#f6d4d4"/>
<rect x="629.00" y="173.30" width="10.30" height="10.80" fill="#f6d4d4"/>
<text x="641.20" y="180.70" font-size="6.85" font-weight="bold" fill="#111" >ZNF385A</text>
<rect x="392.00" y="184.10" width="9.80" height="10.80" fill="#a7ceec"/>
<rect x="517.60" y="184.10" width="9.90" height="10.80" fill="#96c4e8"/>
<rect x="401.80" y="184.10" width="9.90" height="10.80" fill="#c6dff3"/>
<rect x="527.50" y="184.10" width="9.90" height="10.80" fill="#86bbe5"/>
<rect x="411.70" y="184.10" width="9.80" height="10.80" fill="#a7ceec"/>
<rect x="537.40" y="184.10" width="9.90" height="10.80" fill="#96c4e8"/>
<rect x="421.50" y="184.10" width="11.00" height="10.80" fill="#f3c6c6"/>
<rect x="547.30" y="184.10" width="10.20" height="10.80" fill="#e17575"/>
<rect x="432.50" y="184.10" width="10.20" height="10.80" fill="#eca7a7"/>
<rect x="557.50" y="184.10" width="10.20" height="10.80" fill="#e17575"/>
<rect x="442.70" y="184.10" width="9.90" height="10.80" fill="#f3c6c6"/>
<rect x="567.70" y="184.10" width="10.10" height="10.80" fill="#e17575"/>
<rect x="452.60" y="184.10" width="10.30" height="10.80" fill="#fbebeb"/>
<rect x="577.80" y="184.10" width="10.20" height="10.80" fill="#b8d7f0"/>
<rect x="462.90" y="184.10" width="10.20" height="10.80" fill="#fbebeb"/>
<rect x="588.00" y="184.10" width="10.30" height="10.80" fill="#fdf5f5"/>
<rect x="473.10" y="184.10" width="10.30" height="10.80" fill="#fbebeb"/>
<rect x="598.30" y="184.10" width="10.20" height="10.80" fill="#ffffff"/>
<rect x="483.40" y="184.10" width="9.90" height="10.80" fill="#b8d7f0"/>
<rect x="608.50" y="184.10" width="10.30" height="10.80" fill="#fdf5f5"/>
<rect x="493.30" y="184.10" width="9.90" height="10.80" fill="#fbebeb"/>
<rect x="618.80" y="184.10" width="10.20" height="10.80" fill="#fbebeb"/>
<rect x="503.20" y="184.10" width="10.00" height="10.80" fill="#ebf4fb"/>
<rect x="629.00" y="184.10" width="10.30" height="10.80" fill="#fbebeb"/>
<text x="641.20" y="191.50" font-size="6.85" font-weight="bold" fill="#111" >C10orf10</text>
<rect x="392.00" y="194.90" width="9.80" height="10.80" fill="#a7ceec"/>
<rect x="517.60" y="194.90" width="9.90" height="10.80" fill="#75b2e1"/>
<rect x="401.80" y="194.90" width="9.90" height="10.80" fill="#a7ceec"/>
<rect x="527.50" y="194.90" width="9.90" height="10.80" fill="#96c4e8"/>
<rect x="411.70" y="194.90" width="9.80" height="10.80" fill="#b8d7f0"/>
<rect x="537.40" y="194.90" width="9.90" height="10.80" fill="#a7ceec"/>
<rect x="421.50" y="194.90" width="11.00" height="10.80" fill="#f0b8b8"/>
<rect x="547.30" y="194.90" width="10.20" height="10.80" fill="#e17575"/>
<rect x="432.50" y="194.90" width="10.20" height="10.80" fill="#f3c6c6"/>
<rect x="557.50" y="194.90" width="10.20" height="10.80" fill="#e58686"/>
<rect x="442.70" y="194.90" width="9.90" height="10.80" fill="#eca7a7"/>
<rect x="567.70" y="194.90" width="10.10" height="10.80" fill="#e58686"/>
<rect x="452.60" y="194.90" width="10.30" height="10.80" fill="#b8d7f0"/>
<rect x="577.80" y="194.90" width="10.20" height="10.80" fill="#b8d7f0"/>
<rect x="462.90" y="194.90" width="10.20" height="10.80" fill="#fbebeb"/>
<rect x="588.00" y="194.90" width="10.30" height="10.80" fill="#ebf4fb"/>
<rect x="473.10" y="194.90" width="10.30" height="10.80" fill="#ebf4fb"/>
<rect x="598.30" y="194.90" width="10.20" height="10.80" fill="#b8d7f0"/>
<rect x="483.40" y="194.90" width="9.90" height="10.80" fill="#fbebeb"/>
<rect x="608.50" y="194.90" width="10.30" height="10.80" fill="#f6d4d4"/>
<rect x="493.30" y="194.90" width="9.90" height="10.80" fill="#ffffff"/>
<rect x="618.80" y="194.90" width="10.20" height="10.80" fill="#f0b8b8"/>
<rect x="503.20" y="194.90" width="10.00" height="10.80" fill="#f0b8b8"/>
<rect x="629.00" y="194.90" width="10.30" height="10.80" fill="#f3c6c6"/>
<text x="641.20" y="202.30" font-size="6.85" font-weight="bold" fill="#111" >CEACAM1</text>
<rect x="392.00" y="205.70" width="9.80" height="10.80" fill="#b8d7f0"/>
<rect x="517.60" y="205.70" width="9.90" height="10.80" fill="#d4e7f6"/>
<rect x="401.80" y="205.70" width="9.90" height="10.80" fill="#57a1db"/>
<rect x="527.50" y="205.70" width="9.90" height="10.80" fill="#75b2e1"/>
<rect x="411.70" y="205.70" width="9.80" height="10.80" fill="#ebf4fb"/>
<rect x="537.40" y="205.70" width="9.90" height="10.80" fill="#96c4e8"/>
<rect x="421.50" y="205.70" width="11.00" height="10.80" fill="#eca7a7"/>
<rect x="547.30" y="205.70" width="10.20" height="10.80" fill="#eca7a7"/>
<rect x="432.50" y="205.70" width="10.20" height="10.80" fill="#eca7a7"/>
<rect x="557.50" y="205.70" width="10.20" height="10.80" fill="#de6666"/>
<rect x="442.70" y="205.70" width="9.90" height="10.80" fill="#eca7a7"/>
<rect x="567.70" y="205.70" width="10.10" height="10.80" fill="#e17575"/>
<rect x="452.60" y="205.70" width="10.30" height="10.80" fill="#ebf4fb"/>
<rect x="577.80" y="205.70" width="10.20" height="10.80" fill="#96c4e8"/>
<rect x="462.90" y="205.70" width="10.20" height="10.80" fill="#d4e7f6"/>
<rect x="588.00" y="205.70" width="10.30" height="10.80" fill="#ebf4fb"/>
<rect x="473.10" y="205.70" width="10.30" height="10.80" fill="#ebf4fb"/>
<rect x="598.30" y="205.70" width="10.20" height="10.80" fill="#ebf4fb"/>
<rect x="483.40" y="205.70" width="9.90" height="10.80" fill="#f6d4d4"/>
<rect x="608.50" y="205.70" width="10.30" height="10.80" fill="#f8dfdf"/>
<rect x="493.30" y="205.70" width="9.90" height="10.80" fill="#fbebeb"/>
<rect x="618.80" y="205.70" width="10.20" height="10.80" fill="#f3c6c6"/>
<rect x="503.20" y="205.70" width="10.00" height="10.80" fill="#f6d4d4"/>
<rect x="629.00" y="205.70" width="10.30" height="10.80" fill="#f6d4d4"/>
<text x="641.20" y="213.10" font-size="6.85" font-weight="bold" fill="#111" >PTGES</text>
<rect x="392.00" y="216.50" width="9.80" height="10.80" fill="#96c4e8"/>
<rect x="517.60" y="216.50" width="9.90" height="10.80" fill="#a7ceec"/>
<rect x="401.80" y="216.50" width="9.90" height="10.80" fill="#a7ceec"/>
<rect x="527.50" y="216.50" width="9.90" height="10.80" fill="#b8d7f0"/>
<rect x="411.70" y="216.50" width="9.80" height="10.80" fill="#96c4e8"/>
<rect x="537.40" y="216.50" width="9.90" height="10.80" fill="#96c4e8"/>
<rect x="421.50" y="216.50" width="11.00" height="10.80" fill="#e58686"/>
<rect x="547.30" y="216.50" width="10.20" height="10.80" fill="#e89696"/>
<rect x="432.50" y="216.50" width="10.20" height="10.80" fill="#e89696"/>
<rect x="557.50" y="216.50" width="10.20" height="10.80" fill="#e17575"/>
<rect x="442.70" y="216.50" width="9.90" height="10.80" fill="#eca7a7"/>
<rect x="567.70" y="216.50" width="10.10" height="10.80" fill="#e89696"/>
<rect x="452.60" y="216.50" width="10.30" height="10.80" fill="#ebf4fb"/>
<rect x="577.80" y="216.50" width="10.20" height="10.80" fill="#d4e7f6"/>
<rect x="462.90" y="216.50" width="10.20" height="10.80" fill="#ebf4fb"/>
<rect x="588.00" y="216.50" width="10.30" height="10.80" fill="#d4e7f6"/>
<rect x="473.10" y="216.50" width="10.30" height="10.80" fill="#d4e7f6"/>
<rect x="598.30" y="216.50" width="10.20" height="10.80" fill="#dfedf8"/>
<rect x="483.40" y="216.50" width="9.90" height="10.80" fill="#fbebeb"/>
<rect x="608.50" y="216.50" width="10.30" height="10.80" fill="#f6d4d4"/>
<rect x="493.30" y="216.50" width="9.90" height="10.80" fill="#f6d4d4"/>
<rect x="618.80" y="216.50" width="10.20" height="10.80" fill="#f3c6c6"/>
<rect x="503.20" y="216.50" width="10.00" height="10.80" fill="#fbebeb"/>
<rect x="629.00" y="216.50" width="10.30" height="10.80" fill="#f8dfdf"/>
<text x="641.20" y="223.90" font-size="6.85" font-weight="bold" fill="#111" >ABHD4</text>
<rect x="392.00" y="227.30" width="9.80" height="10.80" fill="#96c4e8"/>
<rect x="517.60" y="227.30" width="9.90" height="10.80" fill="#a7ceec"/>
<rect x="401.80" y="227.30" width="9.90" height="10.80" fill="#96c4e8"/>
<rect x="527.50" y="227.30" width="9.90" height="10.80" fill="#b8d7f0"/>
<rect x="411.70" y="227.30" width="9.80" height="10.80" fill="#96c4e8"/>
<rect x="537.40" y="227.30" width="9.90" height="10.80" fill="#c6dff3"/>
<rect x="421.50" y="227.30" width="11.00" height="10.80" fill="#e58686"/>
<rect x="547.30" y="227.30" width="10.20" height="10.80" fill="#e89696"/>
<rect x="432.50" y="227.30" width="10.20" height="10.80" fill="#e89696"/>
<rect x="557.50" y="227.30" width="10.20" height="10.80" fill="#eca7a7"/>
<rect x="442.70" y="227.30" width="9.90" height="10.80" fill="#e89696"/>
<rect x="567.70" y="227.30" width="10.10" height="10.80" fill="#e89696"/>
<rect x="452.60" y="227.30" width="10.30" height="10.80" fill="#b8d7f0"/>
<rect x="577.80" y="227.30" width="10.20" height="10.80" fill="#ebf4fb"/>
<rect x="462.90" y="227.30" width="10.20" height="10.80" fill="#d4e7f6"/>
<rect x="588.00" y="227.30" width="10.30" height="10.80" fill="#d4e7f6"/>
<rect x="473.10" y="227.30" width="10.30" height="10.80" fill="#ebf4fb"/>
<rect x="598.30" y="227.30" width="10.20" height="10.80" fill="#dfedf8"/>
<rect x="483.40" y="227.30" width="9.90" height="10.80" fill="#f6d4d4"/>
<rect x="608.50" y="227.30" width="10.30" height="10.80" fill="#f6d4d4"/>
<rect x="493.30" y="227.30" width="9.90" height="10.80" fill="#f6d4d4"/>
<rect x="618.80" y="227.30" width="10.20" height="10.80" fill="#f6d4d4"/>
<rect x="503.20" y="227.30" width="10.00" height="10.80" fill="#f6d4d4"/>
<rect x="629.00" y="227.30" width="10.30" height="10.80" fill="#f8dfdf"/>
<text x="641.20" y="234.70" font-size="6.85" font-weight="bold" fill="#111" >GPC1</text>
<rect x="392.00" y="238.10" width="9.80" height="10.80" fill="#a7ceec"/>
<rect x="517.60" y="238.10" width="9.90" height="10.80" fill="#b8d7f0"/>
<rect x="401.80" y="238.10" width="9.90" height="10.80" fill="#a7ceec"/>
<rect x="527.50" y="238.10" width="9.90" height="10.80" fill="#b8d7f0"/>
<rect x="411.70" y="238.10" width="9.80" height="10.80" fill="#a7ceec"/>
<rect x="537.40" y="238.10" width="9.90" height="10.80" fill="#c6dff3"/>
<rect x="421.50" y="238.10" width="11.00" height="10.80" fill="#e58686"/>
<rect x="547.30" y="238.10" width="10.20" height="10.80" fill="#e89696"/>
<rect x="432.50" y="238.10" width="10.20" height="10.80" fill="#e89696"/>
<rect x="557.50" y="238.10" width="10.20" height="10.80" fill="#e89696"/>
<rect x="442.70" y="238.10" width="9.90" height="10.80" fill="#e89696"/>
<rect x="567.70" y="238.10" width="10.10" height="10.80" fill="#e89696"/>
<rect x="452.60" y="238.10" width="10.30" height="10.80" fill="#d4e7f6"/>
<rect x="577.80" y="238.10" width="10.20" height="10.80" fill="#ebf4fb"/>
<rect x="462.90" y="238.10" width="10.20" height="10.80" fill="#ebf4fb"/>
<rect x="588.00" y="238.10" width="10.30" height="10.80" fill="#d4e7f6"/>
<rect x="473.10" y="238.10" width="10.30" height="10.80" fill="#d4e7f6"/>
<rect x="598.30" y="238.10" width="10.20" height="10.80" fill="#dfedf8"/>
<rect x="483.40" y="238.10" width="9.90" height="10.80" fill="#f6d4d4"/>
<rect x="608.50" y="238.10" width="10.30" height="10.80" fill="#f6d4d4"/>
<rect x="493.30" y="238.10" width="9.90" height="10.80" fill="#f6d4d4"/>
<rect x="618.80" y="238.10" width="10.20" height="10.80" fill="#f8dfdf"/>
<rect x="503.20" y="238.10" width="10.00" height="10.80" fill="#f6d4d4"/>
<rect x="629.00" y="238.10" width="10.30" height="10.80" fill="#f8dfdf"/>
<text x="641.20" y="245.50" font-size="6.85" font-weight="bold" fill="#111" >TSPAN10</text>
<rect x="392.00" y="248.90" width="9.80" height="10.80" fill="#b8d7f0"/>
<rect x="517.60" y="248.90" width="9.90" height="10.80" fill="#b8d7f0"/>
<rect x="401.80" y="248.90" width="9.90" height="10.80" fill="#b8d7f0"/>
<rect x="527.50" y="248.90" width="9.90" height="10.80" fill="#b8d7f0"/>
<rect x="411.70" y="248.90" width="9.80" height="10.80" fill="#b8d7f0"/>
<rect x="537.40" y="248.90" width="9.90" height="10.80" fill="#a7ceec"/>
<rect x="421.50" y="248.90" width="11.00" height="10.80" fill="#eca7a7"/>
<rect x="547.30" y="248.90" width="10.20" height="10.80" fill="#e58686"/>
<rect x="432.50" y="248.90" width="10.20" height="10.80" fill="#eca7a7"/>
<rect x="557.50" y="248.90" width="10.20" height="10.80" fill="#e58686"/>
<rect x="442.70" y="248.90" width="9.90" height="10.80" fill="#eca7a7"/>
<rect x="567.70" y="248.90" width="10.10" height="10.80" fill="#e89696"/>
<rect x="452.60" y="248.90" width="10.30" height="10.80" fill="#f5f9fd"/>
<rect x="577.80" y="248.90" width="10.20" height="10.80" fill="#ffffff"/>
<rect x="462.90" y="248.90" width="10.20" height="10.80" fill="#ebf4fb"/>
<rect x="588.00" y="248.90" width="10.30" height="10.80" fill="#ffffff"/>
<rect x="473.10" y="248.90" width="10.30" height="10.80" fill="#f5f9fd"/>
<rect x="598.30" y="248.90" width="10.20" height="10.80" fill="#fef9f9"/>
<rect x="483.40" y="248.90" width="9.90" height="10.80" fill="#fbebeb"/>
<rect x="608.50" y="248.90" width="10.30" height="10.80" fill="#f5f9fd"/>
<rect x="493.30" y="248.90" width="9.90" height="10.80" fill="#fbebeb"/>
<rect x="618.80" y="248.90" width="10.20" height="10.80" fill="#f9fcfe"/>
<rect x="503.20" y="248.90" width="10.00" height="10.80" fill="#ebf4fb"/>
<rect x="629.00" y="248.90" width="10.30" height="10.80" fill="#f5f9fd"/>
<text x="641.20" y="256.30" font-size="6.85" font-weight="bold" fill="#111" >EREG</text>
<rect x="392.00" y="259.70" width="9.80" height="10.80" fill="#96c4e8"/>
<rect x="517.60" y="259.70" width="9.90" height="10.80" fill="#b8d7f0"/>
<rect x="401.80" y="259.70" width="9.90" height="10.80" fill="#b8d7f0"/>
<rect x="527.50" y="259.70" width="9.90" height="10.80" fill="#96c4e8"/>
<rect x="411.70" y="259.70" width="9.80" height="10.80" fill="#b8d7f0"/>
<rect x="537.40" y="259.70" width="9.90" height="10.80" fill="#b8d7f0"/>
<rect x="421.50" y="259.70" width="11.00" height="10.80" fill="#f0b8b8"/>
<rect x="547.30" y="259.70" width="10.20" height="10.80" fill="#e89696"/>
<rect x="432.50" y="259.70" width="10.20" height="10.80" fill="#f0b8b8"/>
<rect x="557.50" y="259.70" width="10.20" height="10.80" fill="#f0b8b8"/>
<rect x="442.70" y="259.70" width="9.90" height="10.80" fill="#f0b8b8"/>
<rect x="567.70" y="259.70" width="10.10" height="10.80" fill="#f0b8b8"/>
<rect x="452.60" y="259.70" width="10.30" height="10.80" fill="#ebf4fb"/>
<rect x="577.80" y="259.70" width="10.20" height="10.80" fill="#ebf4fb"/>
<rect x="462.90" y="259.70" width="10.20" height="10.80" fill="#b8d7f0"/>
<rect x="588.00" y="259.70" width="10.30" height="10.80" fill="#d4e7f6"/>
<rect x="473.10" y="259.70" width="10.30" height="10.80" fill="#ebf4fb"/>
<rect x="598.30" y="259.70" width="10.20" height="10.80" fill="#d4e7f6"/>
<rect x="483.40" y="259.70" width="9.90" height="10.80" fill="#fbebeb"/>
<rect x="608.50" y="259.70" width="10.30" height="10.80" fill="#f6d4d4"/>
<rect x="493.30" y="259.70" width="9.90" height="10.80" fill="#f6d4d4"/>
<rect x="618.80" y="259.70" width="10.20" height="10.80" fill="#fbebeb"/>
<rect x="503.20" y="259.70" width="10.00" height="10.80" fill="#fbebeb"/>
<rect x="629.00" y="259.70" width="10.30" height="10.80" fill="#f6d4d4"/>
<text x="641.20" y="267.10" font-size="6.85" font-weight="bold" fill="#111" >CMBL</text>
<rect x="392.00" y="270.50" width="9.80" height="10.80" fill="#b8d7f0"/>
<rect x="517.60" y="270.50" width="9.90" height="10.80" fill="#b8d7f0"/>
<rect x="401.80" y="270.50" width="9.90" height="10.80" fill="#b8d7f0"/>
<rect x="527.50" y="270.50" width="9.90" height="10.80" fill="#96c4e8"/>
<rect x="411.70" y="270.50" width="9.80" height="10.80" fill="#b8d7f0"/>
<rect x="537.40" y="270.50" width="9.90" height="10.80" fill="#96c4e8"/>
<rect x="421.50" y="270.50" width="11.00" height="10.80" fill="#f0b8b8"/>
<rect x="547.30" y="270.50" width="10.20" height="10.80" fill="#f0b8b8"/>
<rect x="432.50" y="270.50" width="10.20" height="10.80" fill="#f0b8b8"/>
<rect x="557.50" y="270.50" width="10.20" height="10.80" fill="#e89696"/>
<rect x="442.70" y="270.50" width="9.90" height="10.80" fill="#f6d4d4"/>
<rect x="567.70" y="270.50" width="10.10" height="10.80" fill="#e89696"/>
<rect x="452.60" y="270.50" width="10.30" height="10.80" fill="#d4e7f6"/>
<rect x="577.80" y="270.50" width="10.20" height="10.80" fill="#f5f9fd"/>
<rect x="462.90" y="270.50" width="10.20" height="10.80" fill="#ffffff"/>
<rect x="588.00" y="270.50" width="10.30" height="10.80" fill="#ebf4fb"/>
<rect x="473.10" y="270.50" width="10.30" height="10.80" fill="#ebf4fb"/>
<rect x="598.30" y="270.50" width="10.20" height="10.80" fill="#ebf4fb"/>
<rect x="483.40" y="270.50" width="9.90" height="10.80" fill="#fbebeb"/>
<rect x="608.50" y="270.50" width="10.30" height="10.80" fill="#fbebeb"/>
<rect x="493.30" y="270.50" width="9.90" height="10.80" fill="#f6d4d4"/>
<rect x="618.80" y="270.50" width="10.20" height="10.80" fill="#fdf5f5"/>
<rect x="503.20" y="270.50" width="10.00" height="10.80" fill="#ebf4fb"/>
<rect x="629.00" y="270.50" width="10.30" height="10.80" fill="#f6d4d4"/>
<text x="641.20" y="277.90" font-size="6.85" font-weight="bold" fill="#111" >SRGAP3</text>
<rect x="392.00" y="281.30" width="9.80" height="10.80" fill="#96c4e8"/>
<rect x="517.60" y="281.30" width="9.90" height="10.80" fill="#b8d7f0"/>
<rect x="401.80" y="281.30" width="9.90" height="10.80" fill="#b8d7f0"/>
<rect x="527.50" y="281.30" width="9.90" height="10.80" fill="#d4e7f6"/>
<rect x="411.70" y="281.30" width="9.80" height="10.80" fill="#b8d7f0"/>
<rect x="537.40" y="281.30" width="9.90" height="10.80" fill="#b8d7f0"/>
<rect x="421.50" y="281.30" width="11.00" height="10.80" fill="#f0b8b8"/>
<rect x="547.30" y="281.30" width="10.20" height="10.80" fill="#f0b8b8"/>
<rect x="432.50" y="281.30" width="10.20" height="10.80" fill="#f0b8b8"/>
<rect x="557.50" y="281.30" width="10.20" height="10.80" fill="#f0b8b8"/>
<rect x="442.70" y="281.30" width="9.90" height="10.80" fill="#f0b8b8"/>
<rect x="567.70" y="281.30" width="10.10" height="10.80" fill="#f6d4d4"/>
<rect x="452.60" y="281.30" width="10.30" height="10.80" fill="#ebf4fb"/>
<rect x="577.80" y="281.30" width="10.20" height="10.80" fill="#ebf4fb"/>
<rect x="462.90" y="281.30" width="10.20" height="10.80" fill="#ffffff"/>
<rect x="588.00" y="281.30" width="10.30" height="10.80" fill="#f5f9fd"/>
<rect x="473.10" y="281.30" width="10.30" height="10.80" fill="#d4e7f6"/>
<rect x="598.30" y="281.30" width="10.20" height="10.80" fill="#ebf4fb"/>
<rect x="483.40" y="281.30" width="9.90" height="10.80" fill="#f6d4d4"/>
<rect x="608.50" y="281.30" width="10.30" height="10.80" fill="#fbebeb"/>
<rect x="493.30" y="281.30" width="9.90" height="10.80" fill="#ffffff"/>
<rect x="618.80" y="281.30" width="10.20" height="10.80" fill="#fbebeb"/>
<rect x="503.20" y="281.30" width="10.00" height="10.80" fill="#fbebeb"/>
<rect x="629.00" y="281.30" width="10.30" height="10.80" fill="#fbebeb"/>
<text x="641.20" y="288.70" font-size="6.85" font-weight="bold" fill="#111" >PDE4C</text>
<rect x="392.00" y="292.10" width="9.80" height="10.80" fill="#d4e7f6"/>
<rect x="517.60" y="292.10" width="9.90" height="10.80" fill="#b8d7f0"/>
<rect x="401.80" y="292.10" width="9.90" height="10.80" fill="#b8d7f0"/>
<rect x="527.50" y="292.10" width="9.90" height="10.80" fill="#96c4e8"/>
<rect x="411.70" y="292.10" width="9.80" height="10.80" fill="#ebf4fb"/>
<rect x="537.40" y="292.10" width="9.90" height="10.80" fill="#b8d7f0"/>
<rect x="421.50" y="292.10" width="11.00" height="10.80" fill="#f6d4d4"/>
<rect x="547.30" y="292.10" width="10.20" height="10.80" fill="#e89696"/>
<rect x="432.50" y="292.10" width="10.20" height="10.80" fill="#f6d4d4"/>
<rect x="557.50" y="292.10" width="10.20" height="10.80" fill="#f0b8b8"/>
<rect x="442.70" y="292.10" width="9.90" height="10.80" fill="#f6d4d4"/>
<rect x="567.70" y="292.10" width="10.10" height="10.80" fill="#f0b8b8"/>
<rect x="452.60" y="292.10" width="10.30" height="10.80" fill="#fdf5f5"/>
<rect x="577.80" y="292.10" width="10.20" height="10.80" fill="#ebf4fb"/>
<rect x="462.90" y="292.10" width="10.20" height="10.80" fill="#fbebeb"/>
<rect x="588.00" y="292.10" width="10.30" height="10.80" fill="#ebf4fb"/>
<rect x="473.10" y="292.10" width="10.30" height="10.80" fill="#ffffff"/>
<rect x="598.30" y="292.10" width="10.20" height="10.80" fill="#ffffff"/>
<rect x="483.40" y="292.10" width="9.90" height="10.80" fill="#ffffff"/>
<rect x="608.50" y="292.10" width="10.30" height="10.80" fill="#fbebeb"/>
<rect x="493.30" y="292.10" width="9.90" height="10.80" fill="#fdf5f5"/>
<rect x="618.80" y="292.10" width="10.20" height="10.80" fill="#fbebeb"/>
<rect x="503.20" y="292.10" width="10.00" height="10.80" fill="#d4e7f6"/>
<rect x="629.00" y="292.10" width="10.30" height="10.80" fill="#fdf5f5"/>
<text x="641.20" y="299.50" font-size="6.85" font-weight="bold" fill="#111" >CSF1</text>
<rect x="392.00" y="302.90" width="9.80" height="10.80" fill="#96c4e8"/>
<rect x="517.60" y="302.90" width="9.90" height="10.80" fill="#b8d7f0"/>
<rect x="401.80" y="302.90" width="9.90" height="10.80" fill="#dfedf8"/>
<rect x="527.50" y="302.90" width="9.90" height="10.80" fill="#d4e7f6"/>
<rect x="411.70" y="302.90" width="9.80" height="10.80" fill="#d4e7f6"/>
<rect x="537.40" y="302.90" width="9.90" height="10.80" fill="#d4e7f6"/>
<rect x="421.50" y="302.90" width="11.00" height="10.80" fill="#f0b8b8"/>
<rect x="547.30" y="302.90" width="10.20" height="10.80" fill="#f6d4d4"/>
<rect x="432.50" y="302.90" width="10.20" height="10.80" fill="#f3c6c6"/>
<rect x="557.50" y="302.90" width="10.20" height="10.80" fill="#f0b8b8"/>
<rect x="442.70" y="302.90" width="9.90" height="10.80" fill="#f0b8b8"/>
<rect x="567.70" y="302.90" width="10.10" height="10.80" fill="#f6d4d4"/>
<rect x="452.60" y="302.90" width="10.30" height="10.80" fill="#ebf4fb"/>
<rect x="577.80" y="302.90" width="10.20" height="10.80" fill="#ebf4fb"/>
<rect x="462.90" y="302.90" width="10.20" height="10.80" fill="#ebf4fb"/>
<rect x="588.00" y="302.90" width="10.30" height="10.80" fill="#f5f9fd"/>
<rect x="473.10" y="302.90" width="10.30" height="10.80" fill="#ffffff"/>
<rect x="598.30" y="302.90" width="10.20" height="10.80" fill="#ebf4fb"/>
<rect x="483.40" y="302.90" width="9.90" height="10.80" fill="#fbebeb"/>
<rect x="608.50" y="302.90" width="10.30" height="10.80" fill="#fdf5f5"/>
<rect x="493.30" y="302.90" width="9.90" height="10.80" fill="#f6d4d4"/>
<rect x="618.80" y="302.90" width="10.20" height="10.80" fill="#fdf5f5"/>
<rect x="503.20" y="302.90" width="10.00" height="10.80" fill="#fbebeb"/>
<rect x="629.00" y="302.90" width="10.30" height="10.80" fill="#f6d4d4"/>
<text x="641.20" y="310.30" font-size="6.85" font-weight="bold" fill="#111" >SCAMP5</text>
<rect x="392.00" y="313.70" width="9.80" height="10.80" fill="#ebf4fb"/>
<rect x="517.60" y="313.70" width="9.90" height="10.80" fill="#d4e7f6"/>
<rect x="401.80" y="313.70" width="9.90" height="10.80" fill="#c6dff3"/>
<rect x="527.50" y="313.70" width="9.90" height="10.80" fill="#b8d7f0"/>
<rect x="411.70" y="313.70" width="9.80" height="10.80" fill="#d4e7f6"/>
<rect x="537.40" y="313.70" width="9.90" height="10.80" fill="#b8d7f0"/>
<rect x="421.50" y="313.70" width="11.00" height="10.80" fill="#f8dfdf"/>
<rect x="547.30" y="313.70" width="10.20" height="10.80" fill="#f0b8b8"/>
<rect x="432.50" y="313.70" width="10.20" height="10.80" fill="#f6d4d4"/>
<rect x="557.50" y="313.70" width="10.20" height="10.80" fill="#f6d4d4"/>
<rect x="442.70" y="313.70" width="9.90" height="10.80" fill="#f0b8b8"/>
<rect x="567.70" y="313.70" width="10.10" height="10.80" fill="#f6d4d4"/>
<rect x="452.60" y="313.70" width="10.30" height="10.80" fill="#fdf5f5"/>
<rect x="577.80" y="313.70" width="10.20" height="10.80" fill="#ebf4fb"/>
<rect x="462.90" y="313.70" width="10.20" height="10.80" fill="#d4e7f6"/>
<rect x="588.00" y="313.70" width="10.30" height="10.80" fill="#ffffff"/>
<rect x="473.10" y="313.70" width="10.30" height="10.80" fill="#ffffff"/>
<rect x="598.30" y="313.70" width="10.20" height="10.80" fill="#fdf5f5"/>
<rect x="483.40" y="313.70" width="9.90" height="10.80" fill="#ffffff"/>
<rect x="608.50" y="313.70" width="10.30" height="10.80" fill="#ebf4fb"/>
<rect x="493.30" y="313.70" width="9.90" height="10.80" fill="#fbebeb"/>
<rect x="618.80" y="313.70" width="10.20" height="10.80" fill="#fbebeb"/>
<rect x="503.20" y="313.70" width="10.00" height="10.80" fill="#fdf5f5"/>
<rect x="629.00" y="313.70" width="10.30" height="10.80" fill="#ffffff"/>
<text x="641.20" y="321.10" font-size="6.85" font-weight="bold" fill="#111" >HSPA12A</text>
<rect x="392.00" y="324.50" width="9.80" height="10.80" fill="#dfedf8"/>
<rect x="517.60" y="324.50" width="9.90" height="10.80" fill="#d4e7f6"/>
<rect x="401.80" y="324.50" width="9.90" height="10.80" fill="#d8e9f7"/>
<rect x="527.50" y="324.50" width="9.90" height="10.80" fill="#ebf4fb"/>
<rect x="411.70" y="324.50" width="9.80" height="10.80" fill="#c6dff3"/>
<rect x="537.40" y="324.50" width="9.90" height="10.80" fill="#b8d7f0"/>
<rect x="421.50" y="324.50" width="11.00" height="10.80" fill="#f0b8b8"/>
<rect x="547.30" y="324.50" width="10.20" height="10.80" fill="#f6d4d4"/>
<rect x="432.50" y="324.50" width="10.20" height="10.80" fill="#fbebeb"/>
<rect x="557.50" y="324.50" width="10.20" height="10.80" fill="#fdf5f5"/>
<rect x="442.70" y="324.50" width="9.90" height="10.80" fill="#f3c6c6"/>
<rect x="567.70" y="324.50" width="10.10" height="10.80" fill="#f0b8b8"/>
<rect x="452.60" y="324.50" width="10.30" height="10.80" fill="#f5f9fd"/>
<rect x="577.80" y="324.50" width="10.20" height="10.80" fill="#ebf4fb"/>
<rect x="462.90" y="324.50" width="10.20" height="10.80" fill="#ffffff"/>
<rect x="588.00" y="324.50" width="10.30" height="10.80" fill="#f5f9fd"/>
<rect x="473.10" y="324.50" width="10.30" height="10.80" fill="#ebf4fb"/>
<rect x="598.30" y="324.50" width="10.20" height="10.80" fill="#fbebeb"/>
<rect x="483.40" y="324.50" width="9.90" height="10.80" fill="#f5f9fd"/>
<rect x="608.50" y="324.50" width="10.30" height="10.80" fill="#f5f9fd"/>
<rect x="493.30" y="324.50" width="9.90" height="10.80" fill="#fbebeb"/>
<rect x="618.80" y="324.50" width="10.20" height="10.80" fill="#fdf5f5"/>
<rect x="503.20" y="324.50" width="10.00" height="10.80" fill="#fbebeb"/>
<rect x="629.00" y="324.50" width="10.30" height="10.80" fill="#fbebeb"/>
<text x="641.20" y="331.90" font-size="6.85" font-weight="bold" fill="#111" >FAM196A</text>
<rect x="392.00" y="335.30" width="9.80" height="10.80" fill="#dfedf8"/>
<rect x="517.60" y="335.30" width="9.90" height="10.80" fill="#ebf4fb"/>
<rect x="401.80" y="335.30" width="9.90" height="10.80" fill="#dfedf8"/>
<rect x="527.50" y="335.30" width="9.90" height="10.80" fill="#b8d7f0"/>
<rect x="411.70" y="335.30" width="9.80" height="10.80" fill="#c6dff3"/>
<rect x="537.40" y="335.30" width="9.90" height="10.80" fill="#d4e7f6"/>
<rect x="421.50" y="335.30" width="11.00" height="10.80" fill="#f7d8d8"/>
<rect x="547.30" y="335.30" width="10.20" height="10.80" fill="#f0b8b8"/>
<rect x="432.50" y="335.30" width="10.20" height="10.80" fill="#f7d8d8"/>
<rect x="557.50" y="335.30" width="10.20" height="10.80" fill="#f6d4d4"/>
<rect x="442.70" y="335.30" width="9.90" height="10.80" fill="#f7d8d8"/>
<rect x="567.70" y="335.30" width="10.10" height="10.80" fill="#f6d4d4"/>
<rect x="452.60" y="335.30" width="10.30" height="10.80" fill="#ffffff"/>
<rect x="577.80" y="335.30" width="10.20" height="10.80" fill="#fdf5f5"/>
<rect x="462.90" y="335.30" width="10.20" height="10.80" fill="#ffffff"/>
<rect x="588.00" y="335.30" width="10.30" height="10.80" fill="#f5f9fd"/>
<rect x="473.10" y="335.30" width="10.30" height="10.80" fill="#f5f9fd"/>
<rect x="598.30" y="335.30" width="10.20" height="10.80" fill="#fdf5f5"/>
<rect x="483.40" y="335.30" width="9.90" height="10.80" fill="#fdf5f5"/>
<rect x="608.50" y="335.30" width="10.30" height="10.80" fill="#fdf5f5"/>
<rect x="493.30" y="335.30" width="9.90" height="10.80" fill="#fdf5f5"/>
<rect x="618.80" y="335.30" width="10.20" height="10.80" fill="#f5f9fd"/>
<rect x="503.20" y="335.30" width="10.00" height="10.80" fill="#f5f9fd"/>
<rect x="629.00" y="335.30" width="10.30" height="10.80" fill="#f5f9fd"/>
<text x="641.20" y="342.70" font-size="6.85" font-weight="bold" fill="#111" >COBLL1</text>
<rect x="392.00" y="346.10" width="9.80" height="10.80" fill="#d8e9f7"/>
<rect x="517.60" y="346.10" width="9.90" height="10.80" fill="#d4e7f6"/>
<rect x="401.80" y="346.10" width="9.90" height="10.80" fill="#dfedf8"/>
<rect x="527.50" y="346.10" width="9.90" height="10.80" fill="#d4e7f6"/>
<rect x="411.70" y="346.10" width="9.80" height="10.80" fill="#d8e9f7"/>
<rect x="537.40" y="346.10" width="9.90" height="10.80" fill="#d4e7f6"/>
<rect x="421.50" y="346.10" width="11.00" height="10.80" fill="#f6d4d4"/>
<rect x="547.30" y="346.10" width="10.20" height="10.80" fill="#f6d4d4"/>
<rect x="432.50" y="346.10" width="10.20" height="10.80" fill="#f6d4d4"/>
<rect x="557.50" y="346.10" width="10.20" height="10.80" fill="#f6d4d4"/>
<rect x="442.70" y="346.10" width="9.90" height="10.80" fill="#f8dfdf"/>
<rect x="567.70" y="346.10" width="10.10" height="10.80" fill="#f6d4d4"/>
<rect x="452.60" y="346.10" width="10.30" height="10.80" fill="#ffffff"/>
<rect x="577.80" y="346.10" width="10.20" height="10.80" fill="#fdf5f5"/>
<rect x="462.90" y="346.10" width="10.20" height="10.80" fill="#fbebeb"/>
<rect x="588.00" y="346.10" width="10.30" height="10.80" fill="#fbebeb"/>
<rect x="473.10" y="346.10" width="10.30" height="10.80" fill="#fbebeb"/>
<rect x="598.30" y="346.10" width="10.20" height="10.80" fill="#fbebeb"/>
<rect x="483.40" y="346.10" width="9.90" height="10.80" fill="#ffffff"/>
<rect x="608.50" y="346.10" width="10.30" height="10.80" fill="#f5f9fd"/>
<rect x="493.30" y="346.10" width="9.90" height="10.80" fill="#ebf4fb"/>
<rect x="618.80" y="346.10" width="10.20" height="10.80" fill="#ebf4fb"/>
<rect x="503.20" y="346.10" width="10.00" height="10.80" fill="#ebf4fb"/>
<rect x="629.00" y="346.10" width="10.30" height="10.80" fill="#ebf4fb"/>
<text x="641.20" y="353.50" font-size="6.85" font-weight="bold" fill="#111" >TIMP3</text>
<rect x="392.00" y="356.90" width="9.80" height="10.80" fill="#e6f1fa"/>
<rect x="517.60" y="356.90" width="9.90" height="10.80" fill="#d4e7f6"/>
<rect x="401.80" y="356.90" width="9.90" height="10.80" fill="#dfedf8"/>
<rect x="527.50" y="356.90" width="9.90" height="10.80" fill="#d4e7f6"/>
<rect x="411.70" y="356.90" width="9.80" height="10.80" fill="#e6f1fa"/>
<rect x="537.40" y="356.90" width="9.90" height="10.80" fill="#d4e7f6"/>
<rect x="421.50" y="356.90" width="11.00" height="10.80" fill="#fbefef"/>
<rect x="547.30" y="356.90" width="10.20" height="10.80" fill="#f6d4d4"/>
<rect x="432.50" y="356.90" width="10.20" height="10.80" fill="#f8dfdf"/>
<rect x="557.50" y="356.90" width="10.20" height="10.80" fill="#fbebeb"/>
<rect x="442.70" y="356.90" width="9.90" height="10.80" fill="#f6d4d4"/>
<rect x="567.70" y="356.90" width="10.10" height="10.80" fill="#f6d4d4"/>
<rect x="452.60" y="356.90" width="10.30" height="10.80" fill="#fbebeb"/>
<rect x="577.80" y="356.90" width="10.20" height="10.80" fill="#ebf4fb"/>
<rect x="462.90" y="356.90" width="10.20" height="10.80" fill="#fbebeb"/>
<rect x="588.00" y="356.90" width="10.30" height="10.80" fill="#f5f9fd"/>
<rect x="473.10" y="356.90" width="10.30" height="10.80" fill="#fbebeb"/>
<rect x="598.30" y="356.90" width="10.20" height="10.80" fill="#fbebeb"/>
<rect x="483.40" y="356.90" width="9.90" height="10.80" fill="#f5f9fd"/>
<rect x="608.50" y="356.90" width="10.30" height="10.80" fill="#fdf5f5"/>
<rect x="493.30" y="356.90" width="9.90" height="10.80" fill="#ebf4fb"/>
<rect x="618.80" y="356.90" width="10.20" height="10.80" fill="#fbebeb"/>
<rect x="503.20" y="356.90" width="10.00" height="10.80" fill="#ebf4fb"/>
<rect x="629.00" y="356.90" width="10.30" height="10.80" fill="#ebf4fb"/>
<text x="641.20" y="364.30" font-size="6.85" font-weight="bold" fill="#111" >FAM13C</text>
<line x1="263.00" y1="43.70" x2="283.40" y2="43.70" stroke="#121212" stroke-width="1.0"/>
<line x1="286.60" y1="43.70" x2="388.20" y2="43.70" stroke="#121212" stroke-width="1.0"/>
<line x1="392.00" y1="43.70" x2="513.20" y2="43.70" stroke="#121212" stroke-width="1.0"/>
<line x1="517.60" y1="43.70" x2="639.30" y2="43.70" stroke="#121212" stroke-width="1.0"/>
<line x1="263.00" y1="54.50" x2="283.40" y2="54.50" stroke="#121212" stroke-width="1.0"/>
<line x1="286.60" y1="54.50" x2="388.20" y2="54.50" stroke="#121212" stroke-width="1.0"/>
<line x1="392.00" y1="54.50" x2="513.20" y2="54.50" stroke="#121212" stroke-width="1.0"/>
<line x1="517.60" y1="54.50" x2="639.30" y2="54.50" stroke="#121212" stroke-width="1.0"/>
<line x1="263.00" y1="65.30" x2="283.40" y2="65.30" stroke="#121212" stroke-width="1.0"/>
<line x1="286.60" y1="65.30" x2="388.20" y2="65.30" stroke="#121212" stroke-width="1.0"/>
<line x1="392.00" y1="65.30" x2="513.20" y2="65.30" stroke="#121212" stroke-width="1.0"/>
<line x1="517.60" y1="65.30" x2="639.30" y2="65.30" stroke="#121212" stroke-width="1.0"/>
<line x1="263.00" y1="76.10" x2="283.40" y2="76.10" stroke="#121212" stroke-width="1.0"/>
<line x1="286.60" y1="76.10" x2="388.20" y2="76.10" stroke="#121212" stroke-width="1.0"/>
<line x1="392.00" y1="76.10" x2="513.20" y2="76.10" stroke="#121212" stroke-width="1.0"/>
<line x1="517.60" y1="76.10" x2="639.30" y2="76.10" stroke="#121212" stroke-width="1.0"/>
<line x1="263.00" y1="86.90" x2="283.40" y2="86.90" stroke="#121212" stroke-width="1.0"/>
<line x1="286.60" y1="86.90" x2="388.20" y2="86.90" stroke="#121212" stroke-width="1.0"/>
<line x1="392.00" y1="86.90" x2="513.20" y2="86.90" stroke="#121212" stroke-width="1.0"/>
<line x1="517.60" y1="86.90" x2="639.30" y2="86.90" stroke="#121212" stroke-width="1.0"/>
<line x1="263.00" y1="97.70" x2="283.40" y2="97.70" stroke="#121212" stroke-width="1.0"/>
<line x1="286.60" y1="97.70" x2="388.20" y2="97.70" stroke="#121212" stroke-width="1.0"/>
<line x1="392.00" y1="97.70" x2="513.20" y2="97.70" stroke="#121212" stroke-width="1.0"/>
<line x1="517.60" y1="97.70" x2="639.30" y2="97.70" stroke="#121212" stroke-width="1.0"/>
<line x1="263.00" y1="108.50" x2="283.40" y2="108.50" stroke="#121212" stroke-width="1.0"/>
<line x1="286.60" y1="108.50" x2="388.20" y2="108.50" stroke="#121212" stroke-width="1.0"/>
<line x1="392.00" y1="108.50" x2="513.20" y2="108.50" stroke="#121212" stroke-width="1.0"/>
<line x1="517.60" y1="108.50" x2="639.30" y2="108.50" stroke="#121212" stroke-width="1.0"/>
<line x1="263.00" y1="119.30" x2="283.40" y2="119.30" stroke="#121212" stroke-width="1.0"/>
<line x1="286.60" y1="119.30" x2="388.20" y2="119.30" stroke="#121212" stroke-width="1.0"/>
<line x1="392.00" y1="119.30" x2="513.20" y2="119.30" stroke="#121212" stroke-width="1.0"/>
<line x1="517.60" y1="119.30" x2="639.30" y2="119.30" stroke="#121212" stroke-width="1.0"/>
<line x1="263.00" y1="130.10" x2="283.40" y2="130.10" stroke="#121212" stroke-width="1.0"/>
<line x1="286.60" y1="130.10" x2="388.20" y2="130.10" stroke="#121212" stroke-width="1.0"/>
<line x1="392.00" y1="130.10" x2="513.20" y2="130.10" stroke="#121212" stroke-width="1.0"/>
<line x1="517.60" y1="130.10" x2="639.30" y2="130.10" stroke="#121212" stroke-width="1.0"/>
<line x1="263.00" y1="140.90" x2="283.40" y2="140.90" stroke="#121212" stroke-width="1.0"/>
<line x1="286.60" y1="140.90" x2="388.20" y2="140.90" stroke="#121212" stroke-width="1.0"/>
<line x1="392.00" y1="140.90" x2="513.20" y2="140.90" stroke="#121212" stroke-width="1.0"/>
<line x1="517.60" y1="140.90" x2="639.30" y2="140.90" stroke="#121212" stroke-width="1.0"/>
<line x1="263.00" y1="151.70" x2="283.40" y2="151.70" stroke="#121212" stroke-width="1.0"/>
<line x1="286.60" y1="151.70" x2="388.20" y2="151.70" stroke="#121212" stroke-width="1.0"/>
<line x1="392.00" y1="151.70" x2="513.20" y2="151.70" stroke="#121212" stroke-width="1.0"/>
<line x1="517.60" y1="151.70" x2="639.30" y2="151.70" stroke="#121212" stroke-width="1.0"/>
<line x1="263.00" y1="162.50" x2="283.40" y2="162.50" stroke="#121212" stroke-width="1.0"/>
<line x1="286.60" y1="162.50" x2="388.20" y2="162.50" stroke="#121212" stroke-width="1.0"/>
<line x1="392.00" y1="162.50" x2="513.20" y2="162.50" stroke="#121212" stroke-width="1.0"/>
<line x1="517.60" y1="162.50" x2="639.30" y2="162.50" stroke="#121212" stroke-width="1.0"/>
<line x1="263.00" y1="173.30" x2="283.40" y2="173.30" stroke="#121212" stroke-width="1.0"/>
<line x1="286.60" y1="173.30" x2="388.20" y2="173.30" stroke="#121212" stroke-width="1.0"/>
<line x1="392.00" y1="173.30" x2="513.20" y2="173.30" stroke="#121212" stroke-width="1.0"/>
<line x1="517.60" y1="173.30" x2="639.30" y2="173.30" stroke="#121212" stroke-width="1.0"/>
<line x1="263.00" y1="184.10" x2="283.40" y2="184.10" stroke="#121212" stroke-width="1.0"/>
<line x1="286.60" y1="184.10" x2="388.20" y2="184.10" stroke="#121212" stroke-width="1.0"/>
<line x1="392.00" y1="184.10" x2="513.20" y2="184.10" stroke="#121212" stroke-width="1.0"/>
<line x1="517.60" y1="184.10" x2="639.30" y2="184.10" stroke="#121212" stroke-width="1.0"/>
<line x1="263.00" y1="194.90" x2="283.40" y2="194.90" stroke="#121212" stroke-width="1.0"/>
<line x1="286.60" y1="194.90" x2="388.20" y2="194.90" stroke="#121212" stroke-width="1.0"/>
<line x1="392.00" y1="194.90" x2="513.20" y2="194.90" stroke="#121212" stroke-width="1.0"/>
<line x1="517.60" y1="194.90" x2="639.30" y2="194.90" stroke="#121212" stroke-width="1.0"/>
<line x1="263.00" y1="205.70" x2="283.40" y2="205.70" stroke="#121212" stroke-width="1.0"/>
<line x1="286.60" y1="205.70" x2="388.20" y2="205.70" stroke="#121212" stroke-width="1.0"/>
<line x1="392.00" y1="205.70" x2="513.20" y2="205.70" stroke="#121212" stroke-width="1.0"/>
<line x1="517.60" y1="205.70" x2="639.30" y2="205.70" stroke="#121212" stroke-width="1.0"/>
<line x1="263.00" y1="216.50" x2="283.40" y2="216.50" stroke="#121212" stroke-width="1.0"/>
<line x1="286.60" y1="216.50" x2="388.20" y2="216.50" stroke="#121212" stroke-width="1.0"/>
<line x1="392.00" y1="216.50" x2="513.20" y2="216.50" stroke="#121212" stroke-width="1.0"/>
<line x1="517.60" y1="216.50" x2="639.30" y2="216.50" stroke="#121212" stroke-width="1.0"/>
<line x1="263.00" y1="227.30" x2="283.40" y2="227.30" stroke="#121212" stroke-width="1.0"/>
<line x1="286.60" y1="227.30" x2="388.20" y2="227.30" stroke="#121212" stroke-width="1.0"/>
<line x1="392.00" y1="227.30" x2="513.20" y2="227.30" stroke="#121212" stroke-width="1.0"/>
<line x1="517.60" y1="227.30" x2="639.30" y2="227.30" stroke="#121212" stroke-width="1.0"/>
<line x1="263.00" y1="238.10" x2="283.40" y2="238.10" stroke="#121212" stroke-width="1.0"/>
<line x1="286.60" y1="238.10" x2="388.20" y2="238.10" stroke="#121212" stroke-width="1.0"/>
<line x1="392.00" y1="238.10" x2="513.20" y2="238.10" stroke="#121212" stroke-width="1.0"/>
<line x1="517.60" y1="238.10" x2="639.30" y2="238.10" stroke="#121212" stroke-width="1.0"/>
<line x1="263.00" y1="248.90" x2="283.40" y2="248.90" stroke="#121212" stroke-width="1.0"/>
<line x1="286.60" y1="248.90" x2="388.20" y2="248.90" stroke="#121212" stroke-width="1.0"/>
<line x1="392.00" y1="248.90" x2="513.20" y2="248.90" stroke="#121212" stroke-width="1.0"/>
<line x1="517.60" y1="248.90" x2="639.30" y2="248.90" stroke="#121212" stroke-width="1.0"/>
<line x1="263.00" y1="259.70" x2="283.40" y2="259.70" stroke="#121212" stroke-width="1.0"/>
<line x1="286.60" y1="259.70" x2="388.20" y2="259.70" stroke="#121212" stroke-width="1.0"/>
<line x1="392.00" y1="259.70" x2="513.20" y2="259.70" stroke="#121212" stroke-width="1.0"/>
<line x1="517.60" y1="259.70" x2="639.30" y2="259.70" stroke="#121212" stroke-width="1.0"/>
<line x1="263.00" y1="270.50" x2="283.40" y2="270.50" stroke="#121212" stroke-width="1.0"/>
<line x1="286.60" y1="270.50" x2="388.20" y2="270.50" stroke="#121212" stroke-width="1.0"/>
<line x1="392.00" y1="270.50" x2="513.20" y2="270.50" stroke="#121212" stroke-width="1.0"/>
<line x1="517.60" y1="270.50" x2="639.30" y2="270.50" stroke="#121212" stroke-width="1.0"/>
<line x1="263.00" y1="281.30" x2="283.40" y2="281.30" stroke="#121212" stroke-width="1.0"/>
<line x1="286.60" y1="281.30" x2="388.20" y2="281.30" stroke="#121212" stroke-width="1.0"/>
<line x1="392.00" y1="281.30" x2="513.20" y2="281.30" stroke="#121212" stroke-width="1.0"/>
<line x1="517.60" y1="281.30" x2="639.30" y2="281.30" stroke="#121212" stroke-width="1.0"/>
<line x1="263.00" y1="292.10" x2="283.40" y2="292.10" stroke="#121212" stroke-width="1.0"/>
<line x1="286.60" y1="292.10" x2="388.20" y2="292.10" stroke="#121212" stroke-width="1.0"/>
<line x1="392.00" y1="292.10" x2="513.20" y2="292.10" stroke="#121212" stroke-width="1.0"/>
<line x1="517.60" y1="292.10" x2="639.30" y2="292.10" stroke="#121212" stroke-width="1.0"/>
<line x1="263.00" y1="302.90" x2="283.40" y2="302.90" stroke="#121212" stroke-width="1.0"/>
<line x1="286.60" y1="302.90" x2="388.20" y2="302.90" stroke="#121212" stroke-width="1.0"/>
<line x1="392.00" y1="302.90" x2="513.20" y2="302.90" stroke="#121212" stroke-width="1.0"/>
<line x1="517.60" y1="302.90" x2="639.30" y2="302.90" stroke="#121212" stroke-width="1.0"/>
<line x1="263.00" y1="313.70" x2="283.40" y2="313.70" stroke="#121212" stroke-width="1.0"/>
<line x1="286.60" y1="313.70" x2="388.20" y2="313.70" stroke="#121212" stroke-width="1.0"/>
<line x1="392.00" y1="313.70" x2="513.20" y2="313.70" stroke="#121212" stroke-width="1.0"/>
<line x1="517.60" y1="313.70" x2="639.30" y2="313.70" stroke="#121212" stroke-width="1.0"/>
<line x1="263.00" y1="324.50" x2="283.40" y2="324.50" stroke="#121212" stroke-width="1.0"/>
<line x1="286.60" y1="324.50" x2="388.20" y2="324.50" stroke="#121212" stroke-width="1.0"/>
<line x1="392.00" y1="324.50" x2="513.20" y2="324.50" stroke="#121212" stroke-width="1.0"/>
<line x1="517.60" y1="324.50" x2="639.30" y2="324.50" stroke="#121212" stroke-width="1.0"/>
<line x1="263.00" y1="335.30" x2="283.40" y2="335.30" stroke="#121212" stroke-width="1.0"/>
<line x1="286.60" y1="335.30" x2="388.20" y2="335.30" stroke="#121212" stroke-width="1.0"/>
<line x1="392.00" y1="335.30" x2="513.20" y2="335.30" stroke="#121212" stroke-width="1.0"/>
<line x1="517.60" y1="335.30" x2="639.30" y2="335.30" stroke="#121212" stroke-width="1.0"/>
<line x1="263.00" y1="346.10" x2="283.40" y2="346.10" stroke="#121212" stroke-width="1.0"/>
<line x1="286.60" y1="346.10" x2="388.20" y2="346.10" stroke="#121212" stroke-width="1.0"/>
<line x1="392.00" y1="346.10" x2="513.20" y2="346.10" stroke="#121212" stroke-width="1.0"/>
<line x1="517.60" y1="346.10" x2="639.30" y2="346.10" stroke="#121212" stroke-width="1.0"/>
<line x1="263.00" y1="356.90" x2="283.40" y2="356.90" stroke="#121212" stroke-width="1.0"/>
<line x1="286.60" y1="356.90" x2="388.20" y2="356.90" stroke="#121212" stroke-width="1.0"/>
<line x1="392.00" y1="356.90" x2="513.20" y2="356.90" stroke="#121212" stroke-width="1.0"/>
<line x1="517.60" y1="356.90" x2="639.30" y2="356.90" stroke="#121212" stroke-width="1.0"/>
<line x1="263.00" y1="367.70" x2="283.40" y2="367.70" stroke="#121212" stroke-width="1.0"/>
<line x1="286.60" y1="367.70" x2="388.20" y2="367.70" stroke="#121212" stroke-width="1.0"/>
<line x1="392.00" y1="367.70" x2="513.20" y2="367.70" stroke="#121212" stroke-width="1.0"/>
<line x1="517.60" y1="367.70" x2="639.30" y2="367.70" stroke="#121212" stroke-width="1.0"/>
<line x1="263.00" y1="32.60" x2="263.00" y2="367.70" stroke="#121212" stroke-width="1"/>
<line x1="283.00" y1="32.60" x2="283.00" y2="367.70" stroke="#121212" stroke-width="1"/>
<line x1="310.70" y1="43.70" x2="310.70" y2="367.70" stroke="#121212" stroke-width="0.9"/>
<line x1="337.40" y1="43.70" x2="337.40" y2="367.70" stroke="#121212" stroke-width="0.9"/>
<line x1="362.00" y1="43.70" x2="362.00" y2="367.70" stroke="#121212" stroke-width="0.9"/>
<line x1="401.80" y1="43.70" x2="401.80" y2="367.70" stroke="#121212" stroke-width="0.95"/>
<line x1="411.70" y1="43.70" x2="411.70" y2="367.70" stroke="#121212" stroke-width="0.95"/>
<line x1="421.50" y1="43.70" x2="421.50" y2="367.70" stroke="#121212" stroke-width="0.95"/>
<line x1="432.50" y1="43.70" x2="432.50" y2="367.70" stroke="#121212" stroke-width="0.95"/>
<line x1="442.70" y1="43.70" x2="442.70" y2="367.70" stroke="#121212" stroke-width="0.95"/>
<line x1="452.60" y1="43.70" x2="452.60" y2="367.70" stroke="#121212" stroke-width="0.95"/>
<line x1="462.90" y1="43.70" x2="462.90" y2="367.70" stroke="#121212" stroke-width="0.95"/>
<line x1="473.10" y1="43.70" x2="473.10" y2="367.70" stroke="#121212" stroke-width="0.95"/>
<line x1="483.40" y1="43.70" x2="483.40" y2="367.70" stroke="#121212" stroke-width="0.95"/>
<line x1="493.30" y1="43.70" x2="493.30" y2="367.70" stroke="#121212" stroke-width="0.95"/>
<line x1="503.20" y1="43.70" x2="503.20" y2="367.70" stroke="#121212" stroke-width="0.95"/>
<line x1="527.50" y1="43.70" x2="527.50" y2="367.70" stroke="#121212" stroke-width="0.95"/>
<line x1="537.40" y1="43.70" x2="537.40" y2="367.70" stroke="#121212" stroke-width="0.95"/>
<line x1="547.30" y1="43.70" x2="547.30" y2="367.70" stroke="#121212" stroke-width="0.95"/>
<line x1="557.50" y1="43.70" x2="557.50" y2="367.70" stroke="#121212" stroke-width="0.95"/>
<line x1="567.70" y1="43.70" x2="567.70" y2="367.70" stroke="#121212" stroke-width="0.95"/>
<line x1="577.80" y1="43.70" x2="577.80" y2="367.70" stroke="#121212" stroke-width="0.95"/>
<line x1="588.00" y1="43.70" x2="588.00" y2="367.70" stroke="#121212" stroke-width="0.95"/>
<line x1="598.30" y1="43.70" x2="598.30" y2="367.70" stroke="#121212" stroke-width="0.95"/>
<line x1="608.50" y1="43.70" x2="608.50" y2="367.70" stroke="#121212" stroke-width="0.95"/>
<line x1="618.80" y1="43.70" x2="618.80" y2="367.70" stroke="#121212" stroke-width="0.95"/>
<line x1="629.00" y1="43.70" x2="629.00" y2="367.70" stroke="#121212" stroke-width="0.95"/>
<rect x="283.00" y="32.60" width="3.80" height="335.10" fill="#999"/>
<rect x="283.00" y="32.60" width="1.14" height="335.10" fill="#000"/>
<rect x="285.66" y="32.60" width="1.14" height="335.10" fill="#000"/>
<rect x="285.70" y="10.80" width="1.10" height="21.80" fill="#000"/>
<rect x="387.90" y="10.80" width="4.10" height="356.90" fill="#999"/>
<rect x="387.90" y="10.80" width="1.23" height="356.90" fill="#000"/>
<rect x="390.77" y="10.80" width="1.23" height="356.90" fill="#000"/>
<rect x="513.00" y="10.80" width="4.60" height="356.90" fill="#ddd"/>
<rect x="513.00" y="10.80" width="1.38" height="356.90" fill="#000"/>
<rect x="516.22" y="10.80" width="1.38" height="356.90" fill="#000"/>
<rect x="639.20" y="10.80" width="1.30" height="356.90" fill="#000"/>
<line x1="263.00" y1="43.60" x2="685.00" y2="43.60" stroke="#000" stroke-width="1.5"/>
<line x1="639.00" y1="367.50" x2="685.00" y2="367.50" stroke="#000" stroke-width="1.0"/>
<line x1="337.40" y1="11.10" x2="337.40" y2="21.60" stroke="#000" stroke-width="1"/>
<line x1="310.70" y1="32.60" x2="310.70" y2="43.70" stroke="#000" stroke-width="1"/>
<line x1="337.40" y1="32.60" x2="337.40" y2="43.70" stroke="#000" stroke-width="1"/>
<line x1="362.00" y1="32.60" x2="362.00" y2="43.70" stroke="#000" stroke-width="1"/>
<line x1="452.60" y1="21.90" x2="452.60" y2="43.70" stroke="#000" stroke-width="1"/>
<line x1="421.50" y1="32.60" x2="421.50" y2="43.70" stroke="#000" stroke-width="1"/>
<line x1="483.40" y1="32.60" x2="483.40" y2="43.70" stroke="#000" stroke-width="1"/>
<line x1="578.00" y1="21.90" x2="578.00" y2="43.70" stroke="#000" stroke-width="1"/>
<line x1="547.30" y1="32.60" x2="547.30" y2="43.70" stroke="#000" stroke-width="1"/>
<line x1="608.50" y1="32.60" x2="608.50" y2="43.70" stroke="#000" stroke-width="1"/>
<text x="273.20" y="40.50" font-size="6.9" font-weight="bold" text-anchor="middle" fill="#000" >p53</text>
<text x="311.70" y="18.80" font-size="6.8" font-weight="bold" text-anchor="middle" fill="#000" >DAXX</text>
<text x="361.50" y="18.80" font-size="6.8" font-weight="bold" text-anchor="middle" fill="#000" >ATRX</text>
<text x="337.20" y="29.20" font-size="6.9" font-weight="bold" text-anchor="middle" fill="#000" >Etoposide/DMSO</text>
<text x="298.70" y="40.50" font-size="7.1" text-anchor="middle" fill="#333" >in WT</text>
<text x="324.00" y="40.50" font-size="7.1" text-anchor="middle" fill="#333" >KO/WT</text>
<text x="349.70" y="40.50" font-size="7.1" text-anchor="middle" fill="#333" >in WT</text>
<text x="375.10" y="40.50" font-size="7.1" text-anchor="middle" fill="#333" >KO/WT</text>
<text x="452.70" y="18.80" font-size="6.8" font-weight="bold" text-anchor="middle" fill="#000" >DAXX</text>
<text x="576.30" y="18.80" font-size="6.8" font-weight="bold" text-anchor="middle" fill="#000" >ATRX</text>
<text x="422.00" y="29.20" font-size="6.9" font-weight="bold" text-anchor="middle" fill="#000" >WT</text>
<text x="483.30" y="29.20" font-size="6.9" font-weight="bold" text-anchor="middle" fill="#000" >KO</text>
<text x="547.60" y="29.20" font-size="6.9" font-weight="bold" text-anchor="middle" fill="#000" >WT</text>
<text x="608.70" y="29.20" font-size="6.9" font-weight="bold" text-anchor="middle" fill="#000" >KO</text>
<text x="406.90" y="40.60" font-size="6.8" font-weight="bold" text-anchor="middle" fill="#000" >DMSO</text>
<text x="437.20" y="40.60" font-size="6.8" font-weight="bold" text-anchor="middle" fill="#000" >Etop</text>
<text x="468.00" y="40.60" font-size="6.8" font-weight="bold" text-anchor="middle" fill="#000" >DMSO</text>
<text x="498.50" y="40.60" font-size="6.8" font-weight="bold" text-anchor="middle" fill="#000" >Etop</text>
<text x="532.40" y="40.60" font-size="6.8" font-weight="bold" text-anchor="middle" fill="#000" >DMSO</text>
<text x="562.50" y="40.60" font-size="6.8" font-weight="bold" text-anchor="middle" fill="#000" >Etop</text>
<text x="593.30" y="40.60" font-size="6.8" font-weight="bold" text-anchor="middle" fill="#000" >DMSO</text>
<text x="624.00" y="40.60" font-size="6.8" font-weight="bold" text-anchor="middle" fill="#000" >Etop</text>
<text x="641.20" y="40.60" font-size="6.8" font-weight="bold" fill="#000" >Gene</text>
<text x="2.20" y="402.00" font-size="19.4" font-weight="bold" fill="#000" >d</text>
<line x1="44.60" y1="436.10" x2="44.60" y2="537.80" stroke="#3a3a3a" stroke-width="1.3"/>
<text x="40.20" y="540.50" font-size="7.6" font-weight="bold" text-anchor="end" fill="#222" >0.0</text>
<line x1="40.10" y1="512.70" x2="44.60" y2="512.70" stroke="#222" stroke-width="1.1"/>
<text x="40.20" y="515.40" font-size="7.6" font-weight="bold" text-anchor="end" fill="#222" >0.2</text>
<line x1="40.10" y1="487.60" x2="44.60" y2="487.60" stroke="#222" stroke-width="1.1"/>
<text x="40.20" y="490.30" font-size="7.6" font-weight="bold" text-anchor="end" fill="#222" >0.4</text>
<line x1="40.10" y1="462.70" x2="44.60" y2="462.70" stroke="#222" stroke-width="1.1"/>
<text x="40.20" y="465.40" font-size="7.6" font-weight="bold" text-anchor="end" fill="#222" >0.6</text>
<line x1="40.10" y1="436.60" x2="44.60" y2="436.60" stroke="#222" stroke-width="1.1"/>
<text x="40.20" y="439.30" font-size="7.6" font-weight="bold" text-anchor="end" fill="#222" >0.8</text>
<line x1="40.10" y1="537.80" x2="145.50" y2="537.80" stroke="#6a6a6a" stroke-width="1.15"/>
<line x1="68.20" y1="537.80" x2="68.20" y2="541.80" stroke="#333" stroke-width="1.1"/>
<line x1="122.20" y1="537.80" x2="122.20" y2="541.80" stroke="#333" stroke-width="1.1"/>
<rect x="51.80" y="532.70" width="13.10" height="5.10" fill="#808080" stroke="#3a3a3a" stroke-width="0.7"/>
<circle cx="53.60" cy="531.50" r="1.9" fill="#000"/>
<circle cx="58.20" cy="531.20" r="1.9" fill="#000"/>
<circle cx="62.70" cy="531.50" r="1.9" fill="#000"/>
<rect x="72.40" y="467.30" width="12.70" height="70.50" fill="#f54242" stroke="#3a3a3a" stroke-width="0.7"/>
<line x1="78.75" y1="463.60" x2="78.75" y2="467.30" stroke="#222" stroke-width="0.8"/>
<line x1="75.75" y1="463.60" x2="81.75" y2="463.60" stroke="#222" stroke-width="0.9"/>
<circle cx="78.20" cy="460.70" r="1.9" fill="#000"/>
<circle cx="78.20" cy="467.50" r="1.9" fill="#000"/>
<circle cx="78.20" cy="473.40" r="1.9" fill="#000"/>
<rect x="105.80" y="534.50" width="13.30" height="3.30" fill="#808080" stroke="#3a3a3a" stroke-width="0.7"/>
<circle cx="108.20" cy="535.10" r="1.9" fill="#000"/>
<circle cx="112.60" cy="535.10" r="1.9" fill="#000"/>
<circle cx="117.10" cy="535.10" r="1.9" fill="#000"/>
<rect x="126.40" y="464.20" width="12.70" height="73.60" fill="#f54242" stroke="#3a3a3a" stroke-width="0.7"/>
<line x1="132.75" y1="462.40" x2="132.75" y2="464.20" stroke="#222" stroke-width="0.8"/>
<line x1="129.75" y1="462.40" x2="135.75" y2="462.40" stroke="#222" stroke-width="0.9"/>
<circle cx="127.80" cy="460.20" r="1.9" fill="#000"/>
<circle cx="137.30" cy="462.20" r="1.9" fill="#000"/>
<circle cx="132.70" cy="468.20" r="1.9" fill="#000"/>
<polyline points="78.2,454.5 78.2,443.1 132.7,443.1 132.7,455.5" fill="none" stroke="#2a2a2a" stroke-width="0.85"/>
<text x="106.90" y="439.50" font-size="9.6" text-anchor="middle" fill="#1a1a1a" >p=0.453</text>
<text x="68.20" y="554.10" font-size="10.2" font-weight="bold" text-anchor="middle" fill="#222" >Ctrl</text>
<text x="120.20" y="554.10" font-size="10.2" font-weight="bold" text-anchor="middle" fill="#222" >DAXX_KO</text>
<text transform="translate(23.90,488.00) rotate(-90)" font-size="8.2" font-weight="bold" text-anchor="middle" fill="#222">Relative to GAPDH</text>
<text x="96.20" y="424.40" font-size="9.5" font-weight="bold" text-anchor="middle" fill="#111" >CDKN1A</text>
<line x1="187.80" y1="438.30" x2="187.80" y2="539.80" stroke="#3a3a3a" stroke-width="1.3"/>
<text x="182.30" y="542.50" font-size="7.6" font-weight="bold" text-anchor="end" fill="#222" >0.000</text>
<line x1="183.30" y1="506.40" x2="187.80" y2="506.40" stroke="#222" stroke-width="1.1"/>
<text x="182.30" y="509.10" font-size="7.6" font-weight="bold" text-anchor="end" fill="#222" >0.002</text>
<line x1="183.30" y1="473.00" x2="187.80" y2="473.00" stroke="#222" stroke-width="1.1"/>
<text x="182.30" y="475.70" font-size="7.6" font-weight="bold" text-anchor="end" fill="#222" >0.004</text>
<line x1="183.30" y1="438.80" x2="187.80" y2="438.80" stroke="#222" stroke-width="1.1"/>
<text x="182.30" y="441.50" font-size="7.6" font-weight="bold" text-anchor="end" fill="#222" >0.006</text>
<line x1="183.30" y1="539.80" x2="290.10" y2="539.80" stroke="#6a6a6a" stroke-width="1.15"/>
<line x1="211.90" y1="539.80" x2="211.90" y2="543.80" stroke="#333" stroke-width="1.1"/>
<line x1="265.00" y1="539.80" x2="265.00" y2="543.80" stroke="#333" stroke-width="1.1"/>
<rect x="195.30" y="538.20" width="13.10" height="1.60" fill="#808080" stroke="#3a3a3a" stroke-width="0.7"/>
<circle cx="196.80" cy="538.20" r="1.9" fill="#000"/>
<circle cx="201.40" cy="538.00" r="1.9" fill="#000"/>
<circle cx="206.30" cy="538.20" r="1.9" fill="#000"/>
<rect x="215.00" y="459.10" width="13.60" height="80.70" fill="#f54242" stroke="#3a3a3a" stroke-width="0.7"/>
<line x1="221.80" y1="456.00" x2="221.80" y2="459.10" stroke="#222" stroke-width="0.8"/>
<line x1="218.80" y1="456.00" x2="224.80" y2="456.00" stroke="#222" stroke-width="0.9"/>
<circle cx="221.90" cy="454.00" r="1.9" fill="#000"/>
<circle cx="216.80" cy="461.80" r="1.9" fill="#000"/>
<circle cx="226.50" cy="461.30" r="1.9" fill="#000"/>
<rect x="249.20" y="538.70" width="13.10" height="1.10" fill="#808080" stroke="#3a3a3a" stroke-width="0.7"/>
<circle cx="250.80" cy="538.70" r="1.9" fill="#000"/>
<circle cx="255.50" cy="538.50" r="1.9" fill="#000"/>
<circle cx="259.90" cy="538.70" r="1.9" fill="#000"/>
<rect x="269.20" y="513.30" width="12.50" height="26.50" fill="#f54242" stroke="#3a3a3a" stroke-width="0.7"/>
<line x1="275.45" y1="511.30" x2="275.45" y2="513.30" stroke="#222" stroke-width="0.8"/>
<line x1="272.45" y1="511.30" x2="278.45" y2="511.30" stroke="#222" stroke-width="0.9"/>
<circle cx="270.80" cy="509.60" r="1.9" fill="#000"/>
<circle cx="270.50" cy="515.10" r="1.9" fill="#000"/>
<circle cx="279.90" cy="513.60" r="1.9" fill="#000"/>
<polyline points="221.4,450 221.4,443.1 275.9,443.1 275.9,500" fill="none" stroke="#2a2a2a" stroke-width="0.85"/>
<text x="249.50" y="439.80" font-size="9.6" text-anchor="middle" fill="#1a1a1a" >p&lt;.0001</text>
<text x="213.20" y="554.10" font-size="10.2" font-weight="bold" text-anchor="middle" fill="#222" >Ctrl</text>
<text x="265.00" y="554.10" font-size="10.2" font-weight="bold" text-anchor="middle" fill="#222" >DAXX_KO</text>
<text transform="translate(158.20,489.50) rotate(-90)" font-size="8.2" font-weight="bold" text-anchor="middle" fill="#222">Relative to GAPDH</text>
<text x="238.50" y="426.40" font-size="9.5" font-weight="bold" text-anchor="middle" fill="#111" >GADD45A</text>
<line x1="344.00" y1="439.50" x2="344.00" y2="540.40" stroke="#3a3a3a" stroke-width="1.3"/>
<text x="338.70" y="543.10" font-size="7.6" font-weight="bold" text-anchor="end" fill="#222" >0.000000</text>
<line x1="339.50" y1="515.50" x2="344.00" y2="515.50" stroke="#222" stroke-width="1.1"/>
<text x="338.70" y="518.20" font-size="7.6" font-weight="bold" text-anchor="end" fill="#222" >0.000005</text>
<line x1="339.50" y1="490.40" x2="344.00" y2="490.40" stroke="#222" stroke-width="1.1"/>
<text x="338.70" y="493.10" font-size="7.6" font-weight="bold" text-anchor="end" fill="#222" >0.000010</text>
<line x1="339.50" y1="465.50" x2="344.00" y2="465.50" stroke="#222" stroke-width="1.1"/>
<text x="338.70" y="468.20" font-size="7.6" font-weight="bold" text-anchor="end" fill="#222" >0.000015</text>
<line x1="339.50" y1="440.00" x2="344.00" y2="440.00" stroke="#222" stroke-width="1.1"/>
<text x="338.70" y="442.70" font-size="7.6" font-weight="bold" text-anchor="end" fill="#222" >0.000020</text>
<line x1="339.50" y1="540.40" x2="445.80" y2="540.40" stroke="#6a6a6a" stroke-width="1.15"/>
<line x1="367.60" y1="540.40" x2="367.60" y2="544.40" stroke="#333" stroke-width="1.1"/>
<line x1="421.30" y1="540.40" x2="421.30" y2="544.40" stroke="#333" stroke-width="1.1"/>
<circle cx="357.60" cy="540.00" r="1.9" fill="#000"/>
<rect x="371.30" y="464.20" width="13.20" height="76.20" fill="#f54242" stroke="#3a3a3a" stroke-width="0.7"/>
<line x1="377.90" y1="459.10" x2="377.90" y2="464.20" stroke="#222" stroke-width="0.8"/>
<line x1="374.90" y1="459.10" x2="380.90" y2="459.10" stroke="#222" stroke-width="0.9"/>
<circle cx="377.80" cy="456.00" r="1.9" fill="#000"/>
<circle cx="377.80" cy="464.50" r="1.9" fill="#000"/>
<circle cx="377.80" cy="470.90" r="1.9" fill="#000"/>
<circle cx="406.90" cy="540.40" r="1.9" fill="#000"/>
<circle cx="416.40" cy="540.40" r="1.9" fill="#000"/>
<rect x="425.50" y="528.20" width="12.70" height="12.20" fill="#f54242" stroke="#3a3a3a" stroke-width="0.7"/>
<line x1="431.85" y1="525.10" x2="431.85" y2="528.20" stroke="#222" stroke-width="0.8"/>
<line x1="428.85" y1="525.10" x2="434.85" y2="525.10" stroke="#222" stroke-width="0.9"/>
<circle cx="431.80" cy="524.50" r="1.9" fill="#000"/>
<circle cx="427.30" cy="531.30" r="1.9" fill="#000"/>
<circle cx="436.40" cy="528.70" r="1.9" fill="#000"/>
<polyline points="377.3,450 377.3,443.1 431.5,443.1 431.5,514.5" fill="none" stroke="#2a2a2a" stroke-width="0.85"/>
<text x="404.50" y="439.80" font-size="9.6" text-anchor="middle" fill="#1a1a1a" >p=.0002</text>
<text x="365.50" y="554.10" font-size="10.2" font-weight="bold" text-anchor="middle" fill="#222" >Ctrl</text>
<text x="416.40" y="554.10" font-size="10.2" font-weight="bold" text-anchor="middle" fill="#222" >DAXX_KO</text>
<text transform="translate(302.10,490.00) rotate(-90)" font-size="8.2" font-weight="bold" text-anchor="middle" fill="#222">Relative to GAPDH</text>
<text x="394.70" y="426.40" font-size="9.5" font-weight="bold" text-anchor="middle" fill="#111" >CYP4F3</text>
<line x1="495.10" y1="437.70" x2="495.10" y2="539.50" stroke="#3a3a3a" stroke-width="1.3"/>
<text x="491.20" y="542.20" font-size="7.6" font-weight="bold" text-anchor="end" fill="#222" >0.00000</text>
<line x1="490.60" y1="514.00" x2="495.10" y2="514.00" stroke="#222" stroke-width="1.1"/>
<text x="491.20" y="516.70" font-size="7.6" font-weight="bold" text-anchor="end" fill="#222" >0.00005</text>
<line x1="490.60" y1="488.50" x2="495.10" y2="488.50" stroke="#222" stroke-width="1.1"/>
<text x="491.20" y="491.20" font-size="7.6" font-weight="bold" text-anchor="end" fill="#222" >0.00010</text>
<line x1="490.60" y1="463.30" x2="495.10" y2="463.30" stroke="#222" stroke-width="1.1"/>
<text x="491.20" y="466.00" font-size="7.6" font-weight="bold" text-anchor="end" fill="#222" >0.00015</text>
<line x1="490.60" y1="438.20" x2="495.10" y2="438.20" stroke="#222" stroke-width="1.1"/>
<text x="491.20" y="440.90" font-size="7.6" font-weight="bold" text-anchor="end" fill="#222" >0.00020</text>
<line x1="490.60" y1="539.50" x2="595.50" y2="539.50" stroke="#6a6a6a" stroke-width="1.15"/>
<line x1="517.80" y1="539.50" x2="517.80" y2="543.50" stroke="#333" stroke-width="1.1"/>
<line x1="571.80" y1="539.50" x2="571.80" y2="543.50" stroke="#333" stroke-width="1.1"/>
<rect x="501.50" y="521.80" width="13.40" height="17.70" fill="#808080" stroke="#3a3a3a" stroke-width="0.7"/>
<circle cx="503.30" cy="521.80" r="1.9" fill="#000"/>
<circle cx="508.20" cy="521.30" r="1.9" fill="#000"/>
<circle cx="512.70" cy="521.50" r="1.9" fill="#000"/>
<rect x="521.80" y="459.10" width="12.70" height="80.40" fill="#f54242" stroke="#3a3a3a" stroke-width="0.7"/>
<line x1="528.15" y1="450.50" x2="528.15" y2="459.10" stroke="#222" stroke-width="0.8"/>
<line x1="525.15" y1="450.50" x2="531.15" y2="450.50" stroke="#222" stroke-width="0.9"/>
<circle cx="528.20" cy="446.70" r="1.9" fill="#000"/>
<circle cx="528.20" cy="454.90" r="1.9" fill="#000"/>
<circle cx="528.20" cy="474.20" r="1.9" fill="#000"/>
<rect x="555.50" y="531.80" width="13.00" height="7.70" fill="#808080" stroke="#3a3a3a" stroke-width="0.7"/>
<circle cx="557.30" cy="532.70" r="1.9" fill="#000"/>
<circle cx="562.20" cy="532.20" r="1.9" fill="#000"/>
<circle cx="566.70" cy="532.20" r="1.9" fill="#000"/>
<rect x="575.50" y="511.80" width="13.20" height="27.70" fill="#f54242" stroke="#3a3a3a" stroke-width="0.7"/>
<line x1="582.10" y1="510.00" x2="582.10" y2="511.80" stroke="#222" stroke-width="0.8"/>
<line x1="579.10" y1="510.00" x2="585.10" y2="510.00" stroke="#222" stroke-width="0.9"/>
<circle cx="577.60" cy="510.00" r="1.9" fill="#000"/>
<circle cx="577.60" cy="514.50" r="1.9" fill="#000"/>
<circle cx="586.70" cy="510.50" r="1.9" fill="#000"/>
<polyline points="528.2,444.9 528.2,443.1 582.7,443.1 582.7,504.2" fill="none" stroke="#2a2a2a" stroke-width="0.85"/>
<text x="557.30" y="439.60" font-size="9.6" text-anchor="middle" fill="#1a1a1a" >p=.0031</text>
<text x="514.20" y="554.10" font-size="10.2" font-weight="bold" text-anchor="middle" fill="#222" >Ctrl</text>
<text x="565.10" y="554.10" font-size="10.2" font-weight="bold" text-anchor="middle" fill="#222" >DAXX_KO</text>
<text transform="translate(456.90,490.00) rotate(-90)" font-size="8.2" font-weight="bold" text-anchor="middle" fill="#222">Relative to GAPDH</text>
<text x="545.40" y="425.70" font-size="9.5" font-weight="bold" text-anchor="middle" fill="#111" >PARDG6</text>
<line x1="44.50" y1="597.60" x2="44.50" y2="695.90" stroke="#3a3a3a" stroke-width="1.3"/>
<text x="40.50" y="698.60" font-size="7.6" font-weight="bold" text-anchor="end" fill="#222" >0.0</text>
<line x1="40.00" y1="663.50" x2="44.50" y2="663.50" stroke="#222" stroke-width="1.1"/>
<text x="40.50" y="666.20" font-size="7.6" font-weight="bold" text-anchor="end" fill="#222" >0.5</text>
<line x1="40.00" y1="630.80" x2="44.50" y2="630.80" stroke="#222" stroke-width="1.1"/>
<text x="40.50" y="633.50" font-size="7.6" font-weight="bold" text-anchor="end" fill="#222" >1.0</text>
<line x1="40.00" y1="598.10" x2="44.50" y2="598.10" stroke="#222" stroke-width="1.1"/>
<text x="40.50" y="600.80" font-size="7.6" font-weight="bold" text-anchor="end" fill="#222" >1.5</text>
<line x1="40.00" y1="695.90" x2="143.60" y2="695.90" stroke="#6a6a6a" stroke-width="1.15"/>
<line x1="67.80" y1="695.90" x2="67.80" y2="699.90" stroke="#333" stroke-width="1.1"/>
<line x1="120.00" y1="695.90" x2="120.00" y2="699.90" stroke="#333" stroke-width="1.1"/>
<circle cx="53.60" cy="695.90" r="1.9" fill="#000"/>
<circle cx="58.20" cy="694.10" r="1.9" fill="#000"/>
<circle cx="62.70" cy="695.50" r="1.9" fill="#000"/>
<rect x="71.50" y="632.30" width="12.50" height="63.60" fill="#f54242" stroke="#3a3a3a" stroke-width="0.7"/>
<line x1="77.75" y1="626.80" x2="77.75" y2="632.30" stroke="#222" stroke-width="0.8"/>
<line x1="74.75" y1="626.80" x2="80.75" y2="626.80" stroke="#222" stroke-width="0.9"/>
<circle cx="77.80" cy="623.50" r="1.9" fill="#000"/>
<circle cx="77.80" cy="630.80" r="1.9" fill="#000"/>
<circle cx="77.80" cy="640.80" r="1.9" fill="#000"/>
<rect x="104.00" y="695.00" width="13.00" height="0.90" fill="#808080" stroke="#3a3a3a" stroke-width="0.7"/>
<circle cx="105.80" cy="694.60" r="1.9" fill="#000"/>
<circle cx="110.50" cy="694.10" r="1.9" fill="#000"/>
<circle cx="114.90" cy="694.60" r="1.9" fill="#000"/>
<rect x="123.60" y="674.10" width="12.40" height="21.80" fill="#f54242" stroke="#3a3a3a" stroke-width="0.7"/>
<line x1="129.80" y1="665.50" x2="129.80" y2="674.10" stroke="#222" stroke-width="0.8"/>
<line x1="126.80" y1="665.50" x2="132.80" y2="665.50" stroke="#222" stroke-width="0.9"/>
<circle cx="124.90" cy="663.70" r="1.9" fill="#000"/>
<circle cx="134.20" cy="666.30" r="1.9" fill="#000"/>
<circle cx="129.60" cy="690.50" r="1.9" fill="#000"/>
<polyline points="77.8,618.3 77.8,597.4 129.6,597.4 129.6,654.6" fill="none" stroke="#2a2a2a" stroke-width="0.85"/>
<text x="103.60" y="592.70" font-size="9.6" text-anchor="middle" fill="#1a1a1a" >p=.0133</text>
<text x="67.60" y="712.60" font-size="10.2" font-weight="bold" text-anchor="middle" fill="#222" >Ctrl</text>
<text x="117.30" y="712.60" font-size="10.2" font-weight="bold" text-anchor="middle" fill="#222" >ATRX_KO</text>
<text transform="translate(25.20,647.00) rotate(-90)" font-size="8.2" font-weight="bold" text-anchor="middle" fill="#222">Relative to GAPDH</text>
<line x1="194.50" y1="597.60" x2="194.50" y2="697.20" stroke="#3a3a3a" stroke-width="1.3"/>
<text x="190.00" y="699.90" font-size="7.6" font-weight="bold" text-anchor="end" fill="#222" >0.00</text>
<line x1="190.00" y1="664.10" x2="194.50" y2="664.10" stroke="#222" stroke-width="1.1"/>
<text x="190.00" y="666.80" font-size="7.6" font-weight="bold" text-anchor="end" fill="#222" >0.02</text>
<line x1="190.00" y1="630.80" x2="194.50" y2="630.80" stroke="#222" stroke-width="1.1"/>
<text x="190.00" y="633.50" font-size="7.6" font-weight="bold" text-anchor="end" fill="#222" >0.04</text>
<line x1="190.00" y1="598.10" x2="194.50" y2="598.10" stroke="#222" stroke-width="1.1"/>
<text x="190.00" y="600.80" font-size="7.6" font-weight="bold" text-anchor="end" fill="#222" >0.06</text>
<line x1="190.00" y1="697.20" x2="295.10" y2="697.20" stroke="#6a6a6a" stroke-width="1.15"/>
<line x1="218.20" y1="697.20" x2="218.20" y2="701.20" stroke="#333" stroke-width="1.1"/>
<line x1="271.30" y1="697.20" x2="271.30" y2="701.20" stroke="#333" stroke-width="1.1"/>
<circle cx="203.60" cy="696.80" r="1.9" fill="#000"/>
<circle cx="208.20" cy="695.50" r="1.9" fill="#000"/>
<circle cx="212.70" cy="696.80" r="1.9" fill="#000"/>
<rect x="221.80" y="620.10" width="12.70" height="77.10" fill="#f54242" stroke="#3a3a3a" stroke-width="0.7"/>
<line x1="228.15" y1="608.30" x2="228.15" y2="620.10" stroke="#222" stroke-width="0.8"/>
<line x1="225.15" y1="608.30" x2="231.15" y2="608.30" stroke="#222" stroke-width="0.9"/>
<circle cx="227.80" cy="604.10" r="1.9" fill="#000"/>
<circle cx="227.80" cy="612.30" r="1.9" fill="#000"/>
<circle cx="227.80" cy="642.60" r="1.9" fill="#000"/>
<rect x="254.50" y="692.80" width="13.30" height="4.40" fill="#808080" stroke="#3a3a3a" stroke-width="0.7"/>
<circle cx="256.90" cy="693.70" r="1.9" fill="#000"/>
<circle cx="261.30" cy="692.80" r="1.9" fill="#000"/>
<circle cx="266.00" cy="693.70" r="1.9" fill="#000"/>
<rect x="274.50" y="664.50" width="13.10" height="32.70" fill="#f54242" stroke="#3a3a3a" stroke-width="0.7"/>
<line x1="281.05" y1="647.40" x2="281.05" y2="664.50" stroke="#222" stroke-width="0.8"/>
<line x1="278.05" y1="647.40" x2="284.05" y2="647.40" stroke="#222" stroke-width="0.9"/>
<circle cx="280.90" cy="633.20" r="1.9" fill="#000"/>
<circle cx="280.90" cy="669.00" r="1.9" fill="#000"/>
<circle cx="280.90" cy="689.90" r="1.9" fill="#000"/>
<polyline points="227.6,601.0 227.6,597.4 280.9,597.4 280.9,627.7" fill="none" stroke="#2a2a2a" stroke-width="0.85"/>
<text x="252.70" y="592.70" font-size="9.6" text-anchor="middle" fill="#1a1a1a" >p=.0931</text>
<text x="217.30" y="712.60" font-size="10.2" font-weight="bold" text-anchor="middle" fill="#222" >Ctrl</text>
<text x="266.40" y="712.60" font-size="10.2" font-weight="bold" text-anchor="middle" fill="#222" >ATRX_KO</text>
<text transform="translate(170.50,647.00) rotate(-90)" font-size="8.2" font-weight="bold" text-anchor="middle" fill="#222">Relative to GAPDH</text>
<line x1="356.00" y1="598.70" x2="356.00" y2="697.20" stroke="#3a3a3a" stroke-width="1.3"/>
<text x="351.70" y="699.90" font-size="7.6" font-weight="bold" text-anchor="end" fill="#222" >0.0000</text>
<line x1="351.50" y1="677.70" x2="356.00" y2="677.70" stroke="#222" stroke-width="1.1"/>
<text x="351.70" y="680.40" font-size="7.6" font-weight="bold" text-anchor="end" fill="#222" >0.0002</text>
<line x1="351.50" y1="658.10" x2="356.00" y2="658.10" stroke="#222" stroke-width="1.1"/>
<text x="351.70" y="660.80" font-size="7.6" font-weight="bold" text-anchor="end" fill="#222" >0.0004</text>
<line x1="351.50" y1="638.30" x2="356.00" y2="638.30" stroke="#222" stroke-width="1.1"/>
<text x="351.70" y="641.00" font-size="7.6" font-weight="bold" text-anchor="end" fill="#222" >0.0006</text>
<line x1="351.50" y1="618.60" x2="356.00" y2="618.60" stroke="#222" stroke-width="1.1"/>
<text x="351.70" y="621.30" font-size="7.6" font-weight="bold" text-anchor="end" fill="#222" >0.0008</text>
<line x1="351.50" y1="599.20" x2="356.00" y2="599.20" stroke="#222" stroke-width="1.1"/>
<text x="351.70" y="601.90" font-size="7.6" font-weight="bold" text-anchor="end" fill="#222" >0.0010</text>
<line x1="351.50" y1="697.20" x2="454.50" y2="697.20" stroke="#6a6a6a" stroke-width="1.15"/>
<line x1="379.50" y1="697.20" x2="379.50" y2="701.20" stroke="#333" stroke-width="1.1"/>
<line x1="431.50" y1="697.20" x2="431.50" y2="701.20" stroke="#333" stroke-width="1.1"/>
<circle cx="369.50" cy="697.00" r="1.9" fill="#000"/>
<rect x="383.10" y="624.50" width="12.00" height="72.70" fill="#f54242" stroke="#3a3a3a" stroke-width="0.7"/>
<line x1="389.10" y1="617.40" x2="389.10" y2="624.50" stroke="#222" stroke-width="0.8"/>
<line x1="386.10" y1="617.40" x2="392.10" y2="617.40" stroke="#222" stroke-width="0.9"/>
<circle cx="384.50" cy="615.90" r="1.9" fill="#000"/>
<circle cx="393.60" cy="618.10" r="1.9" fill="#000"/>
<circle cx="389.10" cy="639.20" r="1.9" fill="#000"/>
<circle cx="417.30" cy="697.00" r="1.9" fill="#000"/>
<circle cx="426.40" cy="697.00" r="1.9" fill="#000"/>
<rect x="435.50" y="689.50" width="12.10" height="7.70" fill="#f54242" stroke="#3a3a3a" stroke-width="0.7"/>
<line x1="441.55" y1="685.50" x2="441.55" y2="689.50" stroke="#222" stroke-width="0.8"/>
<line x1="438.55" y1="685.50" x2="444.55" y2="685.50" stroke="#222" stroke-width="0.9"/>
<circle cx="436.90" cy="685.40" r="1.9" fill="#000"/>
<circle cx="446.00" cy="686.50" r="1.9" fill="#000"/>
<circle cx="441.50" cy="695.50" r="1.9" fill="#000"/>
<polyline points="388.7,608.6 388.7,597.4 440.9,597.4 440.9,678.6" fill="none" stroke="#2a2a2a" stroke-width="0.85"/>
<text x="415.50" y="592.70" font-size="9.6" text-anchor="middle" fill="#1a1a1a" >p=.0013</text>
<text x="377.30" y="712.60" font-size="10.2" font-weight="bold" text-anchor="middle" fill="#222" >Ctrl</text>
<text x="426.40" y="712.60" font-size="10.2" font-weight="bold" text-anchor="middle" fill="#222" >ATRX_KO</text>
<text transform="translate(324.40,648.00) rotate(-90)" font-size="8.2" font-weight="bold" text-anchor="middle" fill="#222">Relative to GAPDH</text>
<line x1="510.50" y1="598.70" x2="510.50" y2="697.20" stroke="#3a3a3a" stroke-width="1.3"/>
<text x="505.90" y="699.90" font-size="7.6" font-weight="bold" text-anchor="end" fill="#222" >0.0000</text>
<line x1="506.00" y1="664.50" x2="510.50" y2="664.50" stroke="#222" stroke-width="1.1"/>
<text x="505.90" y="667.20" font-size="7.6" font-weight="bold" text-anchor="end" fill="#222" >0.0001</text>
<line x1="506.00" y1="632.60" x2="510.50" y2="632.60" stroke="#222" stroke-width="1.1"/>
<text x="505.90" y="635.30" font-size="7.6" font-weight="bold" text-anchor="end" fill="#222" >0.0002</text>
<line x1="506.00" y1="599.20" x2="510.50" y2="599.20" stroke="#222" stroke-width="1.1"/>
<text x="505.90" y="601.90" font-size="7.6" font-weight="bold" text-anchor="end" fill="#222" >0.0003</text>
<line x1="506.00" y1="697.20" x2="608.60" y2="697.20" stroke="#6a6a6a" stroke-width="1.15"/>
<line x1="533.20" y1="697.20" x2="533.20" y2="701.20" stroke="#333" stroke-width="1.1"/>
<line x1="585.90" y1="697.20" x2="585.90" y2="701.20" stroke="#333" stroke-width="1.1"/>
<rect x="517.20" y="688.10" width="13.30" height="9.10" fill="#808080" stroke="#3a3a3a" stroke-width="0.7"/>
<line x1="523.85" y1="681.90" x2="523.85" y2="688.10" stroke="#222" stroke-width="0.8"/>
<line x1="520.85" y1="681.90" x2="526.85" y2="681.90" stroke="#222" stroke-width="0.9"/>
<circle cx="523.70" cy="675.90" r="1.9" fill="#000"/>
<circle cx="519.20" cy="695.00" r="1.9" fill="#000"/>
<circle cx="528.30" cy="692.30" r="1.9" fill="#000"/>
<rect x="537.40" y="624.10" width="12.10" height="73.10" fill="#f54242" stroke="#3a3a3a" stroke-width="0.7"/>
<line x1="543.45" y1="618.60" x2="543.45" y2="624.10" stroke="#222" stroke-width="0.8"/>
<line x1="540.45" y1="618.60" x2="546.45" y2="618.60" stroke="#222" stroke-width="0.9"/>
<circle cx="538.60" cy="617.70" r="1.9" fill="#000"/>
<circle cx="548.10" cy="618.60" r="1.9" fill="#000"/>
<circle cx="543.20" cy="634.10" r="1.9" fill="#000"/>
<rect x="569.50" y="669.20" width="13.30" height="28.00" fill="#808080" stroke="#3a3a3a" stroke-width="0.7"/>
<line x1="576.15" y1="666.80" x2="576.15" y2="669.20" stroke="#222" stroke-width="0.8"/>
<line x1="573.15" y1="666.80" x2="579.15" y2="666.80" stroke="#222" stroke-width="0.9"/>
<circle cx="576.30" cy="664.60" r="1.9" fill="#000"/>
<circle cx="576.30" cy="670.10" r="1.9" fill="#000"/>
<circle cx="576.30" cy="673.70" r="1.9" fill="#000"/>
<rect x="589.20" y="674.10" width="12.50" height="23.10" fill="#f54242" stroke="#3a3a3a" stroke-width="0.7"/>
<line x1="595.45" y1="664.50" x2="595.45" y2="674.10" stroke="#222" stroke-width="0.8"/>
<line x1="592.45" y1="664.50" x2="598.45" y2="664.50" stroke="#222" stroke-width="0.9"/>
<circle cx="590.80" cy="663.20" r="1.9" fill="#000"/>
<circle cx="599.90" cy="665.00" r="1.9" fill="#000"/>
<circle cx="595.40" cy="691.70" r="1.9" fill="#000"/>
<polyline points="542.8,608.6 542.8,597.4 594.5,597.4 594.5,651.4" fill="none" stroke="#2a2a2a" stroke-width="0.85"/>
<text x="568.60" y="592.70" font-size="9.6" text-anchor="middle" fill="#1a1a1a" >p=.0087</text>
<text x="531.40" y="712.60" font-size="10.2" font-weight="bold" text-anchor="middle" fill="#222" >Ctrl</text>
<text x="580.50" y="712.60" font-size="10.2" font-weight="bold" text-anchor="middle" fill="#222" >ATRX_KO</text>
<text transform="translate(477.60,648.30) rotate(-90)" font-size="8.2" font-weight="bold" text-anchor="middle" fill="#222">Relative to GAPDH</text>
<rect x="602.90" y="447.50" width="10.30" height="5.20" fill="#808080" stroke="#333" stroke-width="0.7"/>
<rect x="602.90" y="461.00" width="10.30" height="5.20" fill="#f54242" stroke="#333" stroke-width="0.7"/>
<text x="620.60" y="453.60" font-size="9.5" font-weight="bold" fill="#111" >DMSO</text>
<text x="620.60" y="466.60" font-size="9.5" font-weight="bold" fill="#111" >Etoposide</text>
<rect x="611.40" y="605.10" width="10.30" height="5.20" fill="#808080" stroke="#333" stroke-width="0.7"/>
<rect x="611.40" y="618.30" width="10.30" height="5.20" fill="#f54242" stroke="#333" stroke-width="0.7"/>
<text x="629.20" y="611.00" font-size="9.5" font-weight="bold" fill="#111" >DMSO</text>
<text x="629.20" y="624.20" font-size="9.5" font-weight="bold" fill="#111" >Etoposide</text>
</svg>
</body></html>
